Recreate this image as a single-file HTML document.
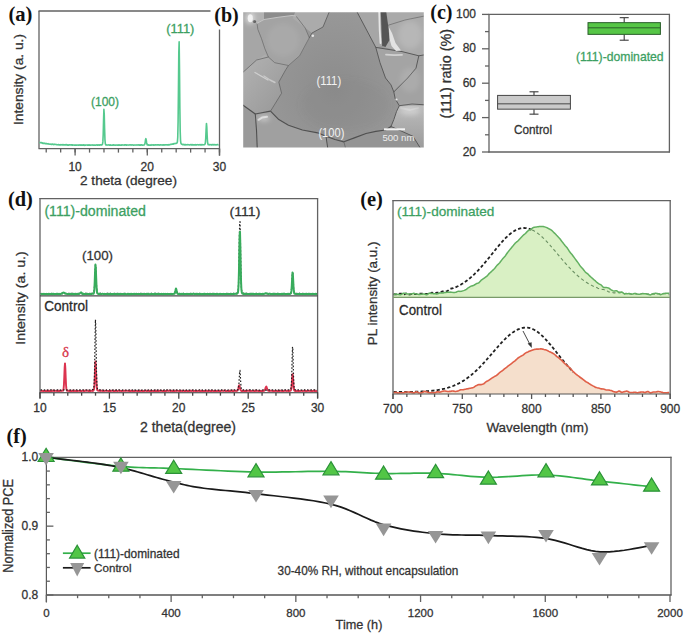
<!DOCTYPE html>
<html><head><meta charset="utf-8"><style>html,body{margin:0;padding:0;background:#fff;}svg{display:block;}</style></head>
<body><svg width="685" height="634" viewBox="0 0 685 634" font-family="Liberation Sans, sans-serif">
<rect width="685" height="634" fill="#fff"/>
<line x1="39" y1="11" x2="39" y2="148.6" stroke="#626262" stroke-width="1.3" />
<line x1="38.5" y1="148.6" x2="220.0" y2="148.6" stroke="#626262" stroke-width="1.3" />
<line x1="38.5" y1="11" x2="220.0" y2="11" stroke="#626262" stroke-width="1.3" />
<line x1="219.5" y1="11" x2="219.5" y2="155.6" stroke="#626262" stroke-width="1.3" />
<line x1="46.22" y1="148.6" x2="46.22" y2="152.6" stroke="#626262" stroke-width="1.3" />
<line x1="60.66" y1="148.6" x2="60.66" y2="152.6" stroke="#626262" stroke-width="1.3" />
<line x1="75.1" y1="148.6" x2="75.1" y2="152.6" stroke="#626262" stroke-width="1.3" />
<line x1="89.53999999999999" y1="148.6" x2="89.53999999999999" y2="152.6" stroke="#626262" stroke-width="1.3" />
<line x1="103.98" y1="148.6" x2="103.98" y2="152.6" stroke="#626262" stroke-width="1.3" />
<line x1="118.42" y1="148.6" x2="118.42" y2="152.6" stroke="#626262" stroke-width="1.3" />
<line x1="132.86" y1="148.6" x2="132.86" y2="152.6" stroke="#626262" stroke-width="1.3" />
<line x1="147.3" y1="148.6" x2="147.3" y2="152.6" stroke="#626262" stroke-width="1.3" />
<line x1="161.74" y1="148.6" x2="161.74" y2="152.6" stroke="#626262" stroke-width="1.3" />
<line x1="176.18" y1="148.6" x2="176.18" y2="152.6" stroke="#626262" stroke-width="1.3" />
<line x1="190.62" y1="148.6" x2="190.62" y2="152.6" stroke="#626262" stroke-width="1.3" />
<line x1="205.06" y1="148.6" x2="205.06" y2="152.6" stroke="#626262" stroke-width="1.3" />
<line x1="219.5" y1="148.6" x2="219.5" y2="152.6" stroke="#626262" stroke-width="1.3" />
<line x1="75.1" y1="148.6" x2="75.1" y2="155.6" stroke="#626262" stroke-width="1.3" />
<text x="75.1" y="171" font-family="Liberation Sans" font-size="12" fill="#333" stroke="#333" stroke-width="0.28" text-anchor="middle" >10</text>
<line x1="147.3" y1="148.6" x2="147.3" y2="155.6" stroke="#626262" stroke-width="1.3" />
<text x="147.3" y="171" font-family="Liberation Sans" font-size="12" fill="#333" stroke="#333" stroke-width="0.28" text-anchor="middle" >20</text>
<line x1="219.5" y1="148.6" x2="219.5" y2="155.6" stroke="#626262" stroke-width="1.3" />
<text x="219.5" y="171" font-family="Liberation Sans" font-size="12" fill="#333" stroke="#333" stroke-width="0.28" text-anchor="middle" >30</text>
<text x="80" y="184.5" font-family="Liberation Sans" font-size="13.6" fill="#333" stroke="#333" stroke-width="0.28" textLength="97" lengthAdjust="spacingAndGlyphs" >2 theta (degree)</text>
<text x="22.8" y="79.5" font-family="Liberation Sans" font-size="13.5" fill="#333" stroke="#333" stroke-width="0.28" text-anchor="middle" textLength="91" lengthAdjust="spacingAndGlyphs" transform="rotate(-90 22.8 79.5)" >Intensity (a. u.)</text>
<path d="M39.50,142.29 L39.85,142.52 L40.20,142.52 L40.55,142.71 L40.90,142.80 L41.25,142.59 L41.60,142.63 L41.95,143.11 L42.30,142.89 L42.65,142.94 L43.00,143.39 L43.35,143.18 L43.70,143.43 L44.05,143.30 L44.40,143.44 L44.75,143.25 L45.10,143.54 L45.45,143.71 L45.80,143.59 L46.15,143.75 L46.50,143.76 L46.85,143.50 L47.20,143.89 L47.55,143.85 L47.90,143.74 L48.25,143.65 L48.60,144.11 L48.95,143.95 L49.30,144.11 L49.65,144.22 L50.00,144.17 L50.35,144.31 L50.70,144.08 L51.05,144.32 L51.40,144.17 L51.75,144.44 L52.10,144.44 L52.45,144.08 L52.80,144.13 L53.15,144.19 L53.50,144.59 L53.85,144.35 L54.20,144.47 L54.55,144.33 L54.90,144.46 L55.25,144.42 L55.60,144.42 L55.95,144.56 L56.30,144.58 L56.65,144.76 L57.00,144.67 L57.35,144.81 L57.70,144.79 L58.05,144.87 L58.40,144.73 L58.75,144.49 L59.10,144.86 L59.45,144.93 L59.80,144.91 L60.15,144.76 L60.50,144.84 L60.85,144.60 L61.20,144.93 L61.55,144.81 L61.90,144.68 L62.25,144.58 L62.60,144.99 L62.95,145.07 L63.30,144.63 L63.65,144.99 L64.00,144.81 L64.35,144.69 L64.70,144.77 L65.05,145.01 L65.40,145.07 L65.75,144.67 L66.10,144.96 L66.45,144.68 L66.80,145.03 L67.15,144.84 L67.50,145.12 L67.85,145.18 L68.20,144.95 L68.55,145.20 L68.90,144.87 L69.25,144.76 L69.60,145.02 L69.95,144.74 L70.30,144.83 L70.65,144.94 L71.00,145.05 L71.35,144.83 L71.70,144.78 L72.05,145.19 L72.40,144.92 L72.75,145.25 L73.10,145.22 L73.45,144.96 L73.80,145.01 L74.15,145.04 L74.50,145.11 L74.85,145.09 L75.20,145.07 L75.55,145.11 L75.90,145.27 L76.25,145.06 L76.60,145.02 L76.95,145.17 L77.30,144.93 L77.65,144.96 L78.00,145.30 L78.35,145.08 L78.70,145.09 L79.05,144.83 L79.40,145.03 L79.75,145.12 L80.10,144.84 L80.45,145.14 L80.80,145.15 L81.15,144.86 L81.50,145.15 L81.85,145.07 L82.20,145.18 L82.55,145.01 L82.90,145.19 L83.25,145.21 L83.60,144.85 L83.95,144.87 L84.30,145.18 L84.65,145.32 L85.00,144.97 L85.35,145.07 L85.70,145.14 L86.05,145.01 L86.40,145.03 L86.75,145.00 L87.10,145.03 L87.45,145.15 L87.80,145.00 L88.15,145.04 L88.50,145.23 L88.85,144.86 L89.20,145.13 L89.55,145.22 L89.90,145.00 L90.25,144.96 L90.60,145.25 L90.95,144.97 L91.30,144.94 L91.65,145.07 L92.00,145.20 L92.35,144.90 L92.70,145.01 L93.05,145.01 L93.40,145.26 L93.75,145.06 L94.10,145.27 L94.45,144.93 L94.80,145.01 L95.15,145.16 L95.50,145.28 L95.85,145.06 L96.20,144.95 L96.55,144.89 L96.90,145.10 L97.25,144.92 L97.60,145.23 L97.95,145.24 L98.30,144.91 L98.65,144.95 L99.00,145.21 L99.35,145.12 L99.70,145.19 L100.05,144.95 L100.40,144.83 L100.75,144.89 L101.10,145.12 L101.45,144.82 L101.80,144.80 L102.15,144.71 L102.50,144.22 L102.85,141.88 L103.20,134.66 L103.55,120.55 L103.90,109.35 L104.25,114.59 L104.60,128.89 L104.95,139.60 L105.30,143.54 L105.65,144.84 L106.00,145.04 L106.35,144.76 L106.70,145.07 L107.05,145.14 L107.40,145.08 L107.75,145.02 L108.10,144.91 L108.45,144.95 L108.80,144.90 L109.15,144.82 L109.50,145.09 L109.85,144.94 L110.20,145.21 L110.55,144.82 L110.90,145.26 L111.25,145.15 L111.60,145.27 L111.95,145.26 L112.30,145.26 L112.65,145.10 L113.00,144.81 L113.35,145.18 L113.70,144.89 L114.05,144.96 L114.40,145.14 L114.75,145.07 L115.10,145.01 L115.45,145.28 L115.80,145.11 L116.15,144.98 L116.50,144.93 L116.85,145.24 L117.20,145.04 L117.55,145.19 L117.90,144.98 L118.25,144.90 L118.60,145.07 L118.95,145.21 L119.30,144.89 L119.65,145.20 L120.00,145.26 L120.35,145.20 L120.70,145.21 L121.05,144.80 L121.40,145.11 L121.75,145.23 L122.10,144.82 L122.45,144.93 L122.80,144.93 L123.15,145.05 L123.50,145.00 L123.85,145.03 L124.20,145.18 L124.55,144.79 L124.90,144.81 L125.25,144.85 L125.60,144.85 L125.95,144.82 L126.30,145.27 L126.65,145.21 L127.00,144.82 L127.35,145.03 L127.70,144.94 L128.05,144.94 L128.40,144.95 L128.75,145.10 L129.10,145.07 L129.45,144.95 L129.80,144.87 L130.15,144.94 L130.50,144.83 L130.85,145.05 L131.20,145.13 L131.55,144.96 L131.90,144.81 L132.25,144.86 L132.60,144.95 L132.95,145.07 L133.30,145.15 L133.65,144.95 L134.00,145.16 L134.35,145.07 L134.70,144.97 L135.05,144.94 L135.40,145.00 L135.75,145.10 L136.10,144.96 L136.45,145.10 L136.80,144.98 L137.15,144.87 L137.50,145.01 L137.85,145.09 L138.20,144.78 L138.55,144.96 L138.90,144.95 L139.25,145.18 L139.60,145.21 L139.95,144.92 L140.30,145.18 L140.65,145.13 L141.00,144.86 L141.35,144.96 L141.70,144.79 L142.05,145.13 L142.40,145.05 L142.75,145.16 L143.10,145.10 L143.45,145.03 L143.80,145.05 L144.15,144.93 L144.50,144.54 L144.85,144.11 L145.20,142.02 L145.55,139.49 L145.90,138.64 L146.25,140.07 L146.60,142.63 L146.95,144.11 L147.30,144.99 L147.65,144.74 L148.00,144.69 L148.35,145.11 L148.70,144.75 L149.05,145.12 L149.40,145.03 L149.75,145.12 L150.10,145.18 L150.45,144.99 L150.80,145.10 L151.15,144.72 L151.50,145.08 L151.85,144.95 L152.20,145.06 L152.55,144.75 L152.90,145.07 L153.25,145.16 L153.60,144.72 L153.95,144.86 L154.30,144.97 L154.65,145.11 L155.00,144.81 L155.35,144.78 L155.70,144.81 L156.05,144.99 L156.40,145.06 L156.75,144.88 L157.10,144.87 L157.45,144.88 L157.80,144.85 L158.15,144.89 L158.50,144.72 L158.85,144.93 L159.20,145.16 L159.55,144.88 L159.90,145.04 L160.25,144.75 L160.60,145.01 L160.95,145.04 L161.30,145.00 L161.65,144.92 L162.00,144.90 L162.35,144.98 L162.70,145.11 L163.05,144.73 L163.40,144.70 L163.75,145.02 L164.10,145.11 L164.45,144.90 L164.80,144.86 L165.15,145.00 L165.50,144.73 L165.85,144.76 L166.20,144.72 L166.55,144.91 L166.90,144.76 L167.25,144.71 L167.60,144.93 L167.95,145.04 L168.30,144.69 L168.65,144.87 L169.00,144.70 L169.35,144.88 L169.70,144.71 L170.05,144.50 L170.40,144.42 L170.75,144.26 L171.10,144.42 L171.45,144.29 L171.80,144.11 L172.15,144.11 L172.50,144.00 L172.85,144.13 L173.20,143.72 L173.55,144.05 L173.90,143.71 L174.25,143.68 L174.60,143.54 L174.95,143.66 L175.30,143.59 L175.65,143.41 L176.00,143.31 L176.35,143.36 L176.70,143.32 L177.05,142.83 L177.40,141.90 L177.75,137.20 L178.10,121.57 L178.45,89.83 L178.80,52.75 L179.15,41.72 L179.50,69.54 L179.85,107.26 L180.20,131.32 L180.55,140.52 L180.90,143.09 L181.25,143.78 L181.60,143.99 L181.95,144.41 L182.30,144.60 L182.65,144.70 L183.00,144.44 L183.35,144.79 L183.70,144.56 L184.05,144.64 L184.40,144.82 L184.75,144.52 L185.10,144.53 L185.45,144.92 L185.80,144.66 L186.15,144.70 L186.50,144.82 L186.85,144.87 L187.20,144.54 L187.55,144.71 L187.90,144.76 L188.25,144.79 L188.60,144.66 L188.95,144.85 L189.30,145.03 L189.65,144.75 L190.00,144.83 L190.35,144.62 L190.70,144.70 L191.05,144.89 L191.40,144.62 L191.75,145.00 L192.10,145.02 L192.45,144.61 L192.80,145.03 L193.15,144.75 L193.50,144.95 L193.85,144.94 L194.20,144.71 L194.55,144.90 L194.90,144.89 L195.25,144.96 L195.60,144.69 L195.95,144.93 L196.30,145.04 L196.65,144.89 L197.00,144.82 L197.35,144.61 L197.70,144.80 L198.05,144.73 L198.40,144.91 L198.75,144.89 L199.10,144.83 L199.45,144.64 L199.80,144.87 L200.15,144.86 L200.50,144.63 L200.85,144.98 L201.20,144.86 L201.55,144.59 L201.90,144.99 L202.25,144.59 L202.60,144.67 L202.95,144.86 L203.30,144.79 L203.65,144.75 L204.00,144.77 L204.35,144.64 L204.70,144.49 L205.05,144.08 L205.40,142.49 L205.75,138.04 L206.10,129.71 L206.45,123.45 L206.80,127.12 L207.15,135.54 L207.50,141.55 L207.85,143.91 L208.20,144.71 L208.55,144.41 L208.90,144.68 L209.25,144.57 L209.60,144.85 L209.95,144.66 L210.30,144.65 L210.65,144.69 L211.00,144.77 L211.35,144.89 L211.70,144.68 L212.05,144.93 L212.40,144.56 L212.75,144.64 L213.10,144.56 L213.45,144.57 L213.80,144.90 L214.15,144.87 L214.50,144.60 L214.85,144.60 L215.20,144.72 L215.55,144.88 L215.90,144.92 L216.25,144.88 L216.60,144.80 L216.95,144.58 L217.30,144.71 L217.65,144.60 L218.00,144.77 L218.35,144.79 L218.70,144.60" fill="none" stroke="#55c98e" stroke-width="1.6" stroke-linejoin="round" />
<text x="105" y="105.5" font-family="Liberation Sans" font-size="12" fill="#3c9f62" stroke="#3c9f62" stroke-width="0.28" text-anchor="middle" textLength="28" lengthAdjust="spacingAndGlyphs" >(100)</text>
<text x="180.3" y="33.2" font-family="Liberation Sans" font-size="12" fill="#3c9f62" stroke="#3c9f62" stroke-width="0.28" text-anchor="middle" textLength="28" lengthAdjust="spacingAndGlyphs" >(111)</text>
<defs><filter id="sb" x="-5%" y="-5%" width="110%" height="110%"><feGaussianBlur stdDeviation="0.7"/></filter><filter id="sb2" x="-50%" y="-50%" width="200%" height="200%"><feGaussianBlur stdDeviation="2.5"/></filter><radialGradient id="cg" cx="0.5" cy="0.6" r="0.65"><stop offset="0" stop-color="#8c8c8c"/><stop offset="1" stop-color="#999999"/></radialGradient><linearGradient id="lg1" x1="0" y1="0" x2="1" y2="1"><stop offset="0" stop-color="#b4b4b4"/><stop offset="1" stop-color="#969696"/></linearGradient><linearGradient id="lg2" x1="0" y1="0" x2="0" y2="1"><stop offset="0" stop-color="#bcbcbc"/><stop offset="1" stop-color="#9a9a9a"/></linearGradient><clipPath id="sc"><rect x="243.2" y="12.2" width="180.60000000000002" height="135.20000000000002"/></clipPath></defs>
<g clip-path="url(#sc)"><g filter="url(#sb)"><rect x="241.2" y="10.2" width="184.60000000000002" height="139.20000000000002" fill="#979797"/>
<polygon points="270.5,111.2 281.6,93.2 278.8,82.1 285.8,69.6 288.5,65.5 299.6,55.8 309.3,37.7 312.0,33.0 323.0,27.0 330.0,10.0 356.0,10.0 375.8,47.4 380.0,62.7 385.5,78.0 391.0,84.9 393.8,91.9 395.2,98.8 399.3,105.7 396.6,111.3 393.8,119.6 391.0,126.5 385.5,130.0 375.8,131.4 366.0,133.5 355.0,137.6 343.9,141.8 335.0,139.5 326.0,136.3 317.7,132.8 302.4,130.0 288.5,125.2 278.8,119.6" fill="url(#cg)" fill-opacity="1"/>
<polygon points="257.0,23.4 264.0,19.5 278.0,17.3 292.0,15.5 296.0,16.0 305.2,28.0 309.3,37.7 299.6,55.8 288.5,65.5 274.7,62.7 268.4,57.0 264.9,48.8 261.4,38.3 257.9,29.5" fill="#a3a3a3" fill-opacity="1"/>
<polygon points="262.0,10.0 300.0,10.0 296.0,16.0 292.0,15.5 278.0,17.3 264.0,19.5 257.0,23.4" fill="#8c8c8c" fill-opacity="1"/>
<polygon points="250.0,10.0 264.0,10.0 264.0,19.5 257.0,23.4 253.0,20.0" fill="#b2b2b2" fill-opacity="1"/>
<polygon points="296.0,10.0 330.0,10.0 323.0,27.0 312.0,33.0 305.2,28.0 292.7,18.3" fill="#ababab" fill-opacity="1"/>
<polygon points="240.0,10.0 250.0,10.0 253.0,20.0 257.0,23.4 257.9,29.5 261.4,38.3 264.9,48.8 268.4,57.0 256.6,60.0 240.0,75.0" fill="#a6a6a6" fill-opacity="1"/>
<polygon points="240.0,75.0 256.6,60.0 265.0,54.4 274.7,62.7 288.5,65.5 285.8,69.6 278.8,82.1 281.6,93.2 270.5,111.2 255.3,114.0 240.0,103.0" fill="url(#lg1)" fill-opacity="1"/>
<polygon points="240.0,103.0 255.3,114.0 257.3,150.0 240.0,150.0" fill="#9a9a9a" fill-opacity="1"/>
<polygon points="255.3,114.0 270.5,111.2 278.8,119.6 288.5,125.2 302.4,130.0 317.7,132.8 326.0,136.3 328.0,150.0 257.3,150.0" fill="#a0a0a0" fill-opacity="1"/>
<polygon points="326.0,136.3 335.0,139.5 343.9,141.8 350.0,150.0 328.0,150.0" fill="#959595" fill-opacity="1"/>
<polygon points="343.9,141.8 355.0,137.6 366.0,133.5 375.8,131.4 385.5,130.0 391.0,126.5 413.0,136.3 421.5,150.0 346.0,150.0" fill="#949494" fill-opacity="1"/>
<polygon points="391.0,126.5 393.8,119.6 396.6,111.3 399.3,105.7 427.0,105.0 427.0,150.0 421.5,150.0 413.0,136.3" fill="url(#lg2)" fill-opacity="1"/>
<polygon points="393.8,91.9 407.7,78.0 416.0,68.2 418.8,55.8 427.0,54.4 427.0,105.0 399.3,105.7 395.2,98.8" fill="#a2a2a2" fill-opacity="1"/>
<polygon points="382.0,10.0 427.0,10.0 427.0,54.4 418.8,55.8 402.0,51.6 383.0,47.0" fill="#aaaaaa" fill-opacity="1"/>
<polygon points="356.0,10.0 380.0,10.0 382.0,46.0 375.8,47.4" fill="#a6a6a6" fill-opacity="1"/>
<polygon points="375.8,47.4 402.0,51.6 418.8,55.8 416.0,68.2 407.7,78.0 393.8,91.9 391.0,84.9 385.5,78.0 380.0,62.7" fill="#a4a4a4" fill-opacity="1"/>
<polyline points="240.0,103.0 255.3,114.0 270.5,111.2 278.8,119.6 288.5,125.2 302.4,130.0 317.7,132.8 326.0,136.3 335.0,139.5 343.9,141.8 355.0,137.6 366.0,133.5 375.8,131.4 385.5,130.0 391.0,126.5" fill="none" stroke="#505050" stroke-width="1.2" stroke-opacity="1" stroke-linejoin="round" stroke-linecap="round"/>
<polyline points="391.0,126.5 393.8,119.6 396.6,111.3 399.3,105.7 395.2,98.8 393.8,91.9 391.0,84.9 385.5,78.0 380.0,62.7 375.8,47.4 356.0,10.0" fill="none" stroke="#5a5a5a" stroke-width="1.0" stroke-opacity="1" stroke-linejoin="round" stroke-linecap="round"/>
<polyline points="255.3,114.0 256.5,130.0 257.3,150.0" fill="none" stroke="#505050" stroke-width="1.1" stroke-opacity="1" stroke-linejoin="round" stroke-linecap="round"/>
<polyline points="326.0,136.3 328.0,150.0" fill="none" stroke="#505050" stroke-width="1.0" stroke-opacity="1" stroke-linejoin="round" stroke-linecap="round"/>
<polyline points="343.9,141.8 346.0,150.0" fill="none" stroke="#666" stroke-width="0.8" stroke-opacity="1" stroke-linejoin="round" stroke-linecap="round"/>
<polyline points="393.8,91.9 407.7,78.0 416.0,68.2 418.8,55.8" fill="none" stroke="#5a5a5a" stroke-width="1.0" stroke-opacity="1" stroke-linejoin="round" stroke-linecap="round"/>
<polyline points="375.8,47.4 402.0,51.6 418.8,55.8 427.0,54.4" fill="none" stroke="#5a5a5a" stroke-width="1.0" stroke-opacity="1" stroke-linejoin="round" stroke-linecap="round"/>
<polyline points="399.3,105.7 412.0,104.0 427.0,105.0" fill="none" stroke="#5a5a5a" stroke-width="1.0" stroke-opacity="1" stroke-linejoin="round" stroke-linecap="round"/>
<polyline points="391.0,126.5 413.0,136.3 421.5,150.0" fill="none" stroke="#5a5a5a" stroke-width="1.0" stroke-opacity="1" stroke-linejoin="round" stroke-linecap="round"/>
<polyline points="388.0,25.3 405.0,20.0 427.0,15.5" fill="none" stroke="#707070" stroke-width="0.8" stroke-opacity="1" stroke-linejoin="round" stroke-linecap="round"/>
<polyline points="270.5,111.2 281.6,93.2 278.8,82.1 285.8,69.6 288.5,65.5" fill="none" stroke="#6a6a6a" stroke-width="0.9" stroke-opacity="1" stroke-linejoin="round" stroke-linecap="round"/>
<polyline points="257.0,23.4 257.9,29.5 261.4,38.3 264.9,48.8 268.4,57.0 274.7,62.7 288.5,65.5 299.6,55.8 309.3,37.7 305.2,28.0 296.0,16.0" fill="none" stroke="#707070" stroke-width="0.8" stroke-opacity="1" stroke-linejoin="round" stroke-linecap="round"/>
<polyline points="257.0,23.4 264.0,19.5 278.0,17.3 292.0,15.5 296.0,16.0" fill="none" stroke="#c4c4c4" stroke-width="1.0" stroke-opacity="1" stroke-linejoin="round" stroke-linecap="round"/>
<circle cx="254.5" cy="21.5" r="1.6" fill="#4a4a4a"/>
<polyline points="309.3,37.7 312.0,33.0 323.0,27.0 330.0,10.0" fill="none" stroke="#606060" stroke-width="0.9" stroke-opacity="1" stroke-linejoin="round" stroke-linecap="round"/>
<polyline points="240.0,75.0 256.6,60.0 268.4,57.0" fill="none" stroke="#6a6a6a" stroke-width="0.8" stroke-opacity="1" stroke-linejoin="round" stroke-linecap="round"/>
<polygon points="380.8,10 386,10 388.5,28 389.5,40 385.5,47 382.2,46" fill="#555"/>
<polygon points="388.8,27 392,33 395.5,43 401,50.5 396,51 391.5,46 389.8,40" fill="#e2e2e2"/>
<polyline points="379.2,12.0 379.7,30.0 380.5,43.0" fill="none" stroke="#e6e6e6" stroke-width="1.8" stroke-opacity="1" stroke-linejoin="round" stroke-linecap="round"/>
<polyline points="386.0,54.6 394.0,55.2 402.0,54.8" fill="none" stroke="#d2d2d2" stroke-width="1.8" stroke-opacity="1" stroke-linejoin="round" stroke-linecap="round"/>
<polyline points="255.0,72.5 261.0,76.0 268.0,80.0" fill="none" stroke="#cfcfcf" stroke-width="1.4" stroke-opacity="1" stroke-linejoin="round" stroke-linecap="round"/>
<polyline points="258.5,119.8 262.0,117.6 267.0,116.8" fill="none" stroke="#d4d4d4" stroke-width="2.0" stroke-opacity="1" stroke-linejoin="round" stroke-linecap="round"/>
<ellipse cx="250.3" cy="18.3" rx="2.6" ry="4" fill="#e8e8e8"/>
<polyline points="401.0,108.0 410.0,110.0 418.0,108.0" fill="none" stroke="#c6c6c6" stroke-width="1.8" stroke-opacity="1" stroke-linejoin="round" stroke-linecap="round"/>
<polyline points="264.0,76.0 270.0,80.0 275.0,82.5" fill="none" stroke="#c8c8c8" stroke-width="1.4" stroke-opacity="1" stroke-linejoin="round" stroke-linecap="round"/>
<circle cx="312.8" cy="35.7" r="1.3" fill="#e6e6e6"/>
<circle cx="396.5" cy="99.5" r="1.1" fill="#e6e6e6"/>
</g>
<g filter="url(#sb2)">
<ellipse cx="250" cy="18" rx="4.5" ry="6" fill="#ffffff" fill-opacity="0.55"/>
<ellipse cx="410" cy="111" rx="10" ry="4.5" fill="#ffffff" fill-opacity="0.3"/>
<ellipse cx="264" cy="118.5" rx="6" ry="2.6" fill="#ffffff" fill-opacity="0.45"/>
<ellipse cx="345" cy="105" rx="45" ry="26" fill="#6e6e6e" fill-opacity="0.09"/>
<ellipse cx="283" cy="40" rx="16" ry="16" fill="#ffffff" fill-opacity="0.07"/>
<ellipse cx="410" cy="35" rx="12" ry="14" fill="#ffffff" fill-opacity="0.15"/>
<ellipse cx="410" cy="80" rx="10" ry="12" fill="#ffffff" fill-opacity="0.1"/>
</g></g>
<text x="316.4" y="84.6" font-family="Liberation Sans" font-size="12" fill="#f2f2f2" textLength="24.8" lengthAdjust="spacingAndGlyphs">(111)</text>
<text x="318.4" y="137.4" font-family="Liberation Sans" font-size="12" fill="#f2f2f2" textLength="26" lengthAdjust="spacingAndGlyphs">(100)</text>
<line x1="384" y1="129.3" x2="405" y2="129.3" stroke="#f2f2f2" stroke-width="2"/>
<text x="382.4" y="140.6" font-family="Liberation Sans" font-size="9.5" fill="#eeeeee" textLength="32" lengthAdjust="spacingAndGlyphs">500 nm</text>
<rect x="210.5" y="0" width="31" height="29.5" fill="#fff"/>
<text x="214.3" y="21.8" font-family="Liberation Serif" font-size="20.7" fill="#111" textLength="24.5" lengthAdjust="spacingAndGlyphs" font-weight="bold" >(b)</text>
<text x="8.4" y="20.5" font-family="Liberation Serif" font-size="20.4" fill="#111" textLength="24.1" lengthAdjust="spacingAndGlyphs" font-weight="bold" >(a)</text>
<line x1="489" y1="13.9" x2="489" y2="152.5" stroke="#626262" stroke-width="1.3" />
<line x1="488.5" y1="152" x2="669.9" y2="152" stroke="#626262" stroke-width="1.3" />
<line x1="488.5" y1="14.4" x2="669.9" y2="14.4" stroke="#626262" stroke-width="1.3" />
<line x1="669.4" y1="13.9" x2="669.4" y2="152.5" stroke="#626262" stroke-width="1.3" />
<line x1="482" y1="152.0" x2="489" y2="152.0" stroke="#626262" stroke-width="1.3" />
<text x="476.0" y="155.6" font-family="Liberation Sans" font-size="12" fill="#333" stroke="#333" stroke-width="0.28" text-anchor="end" >20</text>
<line x1="485" y1="134.8" x2="489" y2="134.8" stroke="#626262" stroke-width="1.3" />
<line x1="482" y1="117.6" x2="489" y2="117.6" stroke="#626262" stroke-width="1.3" />
<text x="476.0" y="121.19999999999999" font-family="Liberation Sans" font-size="12" fill="#333" stroke="#333" stroke-width="0.28" text-anchor="end" >40</text>
<line x1="485" y1="100.4" x2="489" y2="100.4" stroke="#626262" stroke-width="1.3" />
<line x1="482" y1="83.2" x2="489" y2="83.2" stroke="#626262" stroke-width="1.3" />
<text x="476.0" y="86.8" font-family="Liberation Sans" font-size="12" fill="#333" stroke="#333" stroke-width="0.28" text-anchor="end" >60</text>
<line x1="485" y1="66.0" x2="489" y2="66.0" stroke="#626262" stroke-width="1.3" />
<line x1="482" y1="48.8" x2="489" y2="48.8" stroke="#626262" stroke-width="1.3" />
<text x="476.0" y="52.4" font-family="Liberation Sans" font-size="12" fill="#333" stroke="#333" stroke-width="0.28" text-anchor="end" >80</text>
<line x1="485" y1="31.599999999999994" x2="489" y2="31.599999999999994" stroke="#626262" stroke-width="1.3" />
<line x1="482" y1="14.400000000000006" x2="489" y2="14.400000000000006" stroke="#626262" stroke-width="1.3" />
<text x="476.0" y="18.000000000000007" font-family="Liberation Sans" font-size="12" fill="#333" stroke="#333" stroke-width="0.28" text-anchor="end" >100</text>
<text x="451.4" y="73.8" font-family="Liberation Sans" font-size="13.8" fill="#333" stroke="#333" stroke-width="0.28" text-anchor="middle" textLength="89.6" lengthAdjust="spacingAndGlyphs" transform="rotate(-90 451.4 73.8)" >(111) ratio (%)</text>
<text x="430.2" y="19.4" font-family="Liberation Serif" font-size="20.4" fill="#111" textLength="22.3" lengthAdjust="spacingAndGlyphs" font-weight="bold" >(c)</text>
<line x1="534.0" y1="91.8" x2="534.0" y2="95.412" stroke="#3a3a3a" stroke-width="1.1" />
<line x1="534.0" y1="109.172" x2="534.0" y2="114.16" stroke="#3a3a3a" stroke-width="1.1" />
<line x1="529.5" y1="91.8" x2="538.5" y2="91.8" stroke="#3a3a3a" stroke-width="1.1" />
<line x1="529.5" y1="114.16" x2="538.5" y2="114.16" stroke="#3a3a3a" stroke-width="1.1" />
<rect x="497.6" y="95.41" width="72.79999999999995" height="13.76" fill="#cacaca" stroke="#464646" stroke-width="1"/>
<line x1="497.6" y1="103.84" x2="570.4" y2="103.84" stroke="#464646" stroke-width="1" />
<line x1="624.2" y1="17.668000000000006" x2="624.2" y2="22.656000000000006" stroke="#3a3a3a" stroke-width="1.1" />
<line x1="624.2" y1="34.352000000000004" x2="624.2" y2="40.2" stroke="#3a3a3a" stroke-width="1.1" />
<line x1="619.7" y1="17.668000000000006" x2="628.7" y2="17.668000000000006" stroke="#3a3a3a" stroke-width="1.1" />
<line x1="619.7" y1="40.2" x2="628.7" y2="40.2" stroke="#3a3a3a" stroke-width="1.1" />
<rect x="588" y="22.66" width="72.39999999999998" height="11.70" fill="#56c646" stroke="#2a5e2a" stroke-width="1"/>
<line x1="588" y1="27.816000000000003" x2="660.4" y2="27.816000000000003" stroke="#2a5e2a" stroke-width="1" />
<text x="514" y="133.6" font-family="Liberation Sans" font-size="12" fill="#333" stroke="#333" stroke-width="0.28" textLength="38" lengthAdjust="spacingAndGlyphs" >Control</text>
<text x="576" y="61" font-family="Liberation Sans" font-size="12.2" fill="#3c9f62" stroke="#3c9f62" stroke-width="0.28" textLength="87.6" lengthAdjust="spacingAndGlyphs" >(111)-dominated</text>
<line x1="40" y1="198.1" x2="40" y2="398.2" stroke="#626262" stroke-width="1.3" />
<line x1="39.5" y1="198.6" x2="318.1" y2="198.6" stroke="#626262" stroke-width="1.3" />
<line x1="317.6" y1="198.1" x2="317.6" y2="398.2" stroke="#626262" stroke-width="1.3" />
<line x1="40" y1="295.9" x2="317.6" y2="295.9" stroke="#4a4a4a" stroke-width="1.1" />
<line x1="39.5" y1="392.7" x2="318.1" y2="392.7" stroke="#333" stroke-width="1.1" />
<line x1="40.0" y1="392.7" x2="40.0" y2="398.7" stroke="#444" stroke-width="1.3" />
<text x="40.0" y="412.3" font-family="Liberation Sans" font-size="12" fill="#333" stroke="#333" stroke-width="0.28" text-anchor="middle" >10</text>
<line x1="53.88" y1="392.7" x2="53.88" y2="395.7" stroke="#444" stroke-width="1.3" />
<line x1="67.76" y1="392.7" x2="67.76" y2="395.7" stroke="#444" stroke-width="1.3" />
<line x1="81.64" y1="392.7" x2="81.64" y2="395.7" stroke="#444" stroke-width="1.3" />
<line x1="95.52000000000001" y1="392.7" x2="95.52000000000001" y2="395.7" stroke="#444" stroke-width="1.3" />
<line x1="109.4" y1="392.7" x2="109.4" y2="398.7" stroke="#444" stroke-width="1.3" />
<text x="109.4" y="412.3" font-family="Liberation Sans" font-size="12" fill="#333" stroke="#333" stroke-width="0.28" text-anchor="middle" >15</text>
<line x1="123.28" y1="392.7" x2="123.28" y2="395.7" stroke="#444" stroke-width="1.3" />
<line x1="137.16000000000003" y1="392.7" x2="137.16000000000003" y2="395.7" stroke="#444" stroke-width="1.3" />
<line x1="151.04000000000002" y1="392.7" x2="151.04000000000002" y2="395.7" stroke="#444" stroke-width="1.3" />
<line x1="164.92000000000002" y1="392.7" x2="164.92000000000002" y2="395.7" stroke="#444" stroke-width="1.3" />
<line x1="178.8" y1="392.7" x2="178.8" y2="398.7" stroke="#444" stroke-width="1.3" />
<text x="178.8" y="412.3" font-family="Liberation Sans" font-size="12" fill="#333" stroke="#333" stroke-width="0.28" text-anchor="middle" >20</text>
<line x1="192.68" y1="392.7" x2="192.68" y2="395.7" stroke="#444" stroke-width="1.3" />
<line x1="206.56" y1="392.7" x2="206.56" y2="395.7" stroke="#444" stroke-width="1.3" />
<line x1="220.44" y1="392.7" x2="220.44" y2="395.7" stroke="#444" stroke-width="1.3" />
<line x1="234.32000000000002" y1="392.7" x2="234.32000000000002" y2="395.7" stroke="#444" stroke-width="1.3" />
<line x1="248.2" y1="392.7" x2="248.2" y2="398.7" stroke="#444" stroke-width="1.3" />
<text x="248.2" y="412.3" font-family="Liberation Sans" font-size="12" fill="#333" stroke="#333" stroke-width="0.28" text-anchor="middle" >25</text>
<line x1="262.08000000000004" y1="392.7" x2="262.08000000000004" y2="395.7" stroke="#444" stroke-width="1.3" />
<line x1="275.96000000000004" y1="392.7" x2="275.96000000000004" y2="395.7" stroke="#444" stroke-width="1.3" />
<line x1="289.84000000000003" y1="392.7" x2="289.84000000000003" y2="395.7" stroke="#444" stroke-width="1.3" />
<line x1="303.72" y1="392.7" x2="303.72" y2="395.7" stroke="#444" stroke-width="1.3" />
<line x1="317.6" y1="392.7" x2="317.6" y2="398.7" stroke="#444" stroke-width="1.3" />
<text x="317.6" y="412.3" font-family="Liberation Sans" font-size="12" fill="#333" stroke="#333" stroke-width="0.28" text-anchor="middle" >30</text>
<text x="140" y="432" font-family="Liberation Sans" font-size="14" fill="#333" stroke="#333" stroke-width="0.28" textLength="96" lengthAdjust="spacingAndGlyphs" >2 theta(degree)</text>
<text x="24.7" y="298" font-family="Liberation Sans" font-size="13.6" fill="#333" stroke="#333" stroke-width="0.28" text-anchor="middle" textLength="93.5" lengthAdjust="spacingAndGlyphs" transform="rotate(-90 24.7 298)" >Intensity (a. u.)</text>
<text x="8" y="206.2" font-family="Liberation Serif" font-size="20.6" fill="#111" textLength="24.9" lengthAdjust="spacingAndGlyphs" font-weight="bold" >(d)</text>
<path d="M40.50,293.53 L40.85,293.68 L41.20,293.46 L41.55,293.69 L41.90,293.72 L42.25,293.73 L42.60,293.56 L42.95,293.62 L43.30,293.62 L43.65,293.64 L44.00,293.74 L44.35,293.66 L44.70,293.54 L45.05,293.71 L45.40,293.60 L45.75,293.63 L46.10,293.67 L46.45,293.45 L46.80,293.68 L47.15,293.65 L47.50,293.60 L47.85,293.61 L48.20,293.59 L48.55,293.51 L48.90,293.61 L49.25,293.46 L49.60,293.60 L49.95,293.64 L50.30,293.58 L50.65,293.62 L51.00,293.74 L51.35,293.72 L51.70,293.49 L52.05,293.69 L52.40,293.64 L52.75,293.46 L53.10,293.56 L53.45,293.52 L53.80,293.47 L54.15,293.61 L54.50,293.73 L54.85,293.55 L55.20,293.71 L55.55,293.66 L55.90,293.49 L56.25,293.71 L56.60,293.63 L56.95,293.73 L57.30,293.66 L57.65,293.67 L58.00,293.55 L58.35,293.69 L58.70,293.73 L59.05,293.71 L59.40,293.58 L59.75,293.68 L60.10,293.59 L60.45,293.48 L60.80,293.46 L61.15,293.47 L61.50,293.51 L61.85,293.50 L62.20,293.60 L62.55,293.66 L62.90,293.61 L63.25,293.58 L63.60,293.64 L63.95,293.54 L64.30,293.59 L64.65,293.68 L65.00,293.57 L65.35,293.50 L65.70,293.72 L66.05,293.66 L66.40,293.56 L66.75,293.56 L67.10,293.61 L67.45,293.63 L67.80,293.52 L68.15,293.45 L68.50,293.51 L68.85,293.68 L69.20,293.49 L69.55,293.59 L69.90,293.51 L70.25,293.51 L70.60,293.50 L70.95,293.57 L71.30,293.50 L71.65,293.46 L72.00,293.48 L72.35,293.50 L72.70,293.59 L73.05,293.47 L73.40,293.45 L73.75,293.58 L74.10,293.57 L74.45,293.66 L74.80,293.46 L75.15,293.57 L75.50,293.57 L75.85,293.45 L76.20,293.74 L76.55,293.51 L76.90,293.47 L77.25,293.59 L77.60,293.50 L77.95,293.63 L78.30,293.55 L78.65,293.48 L79.00,293.46 L79.35,293.66 L79.70,293.53 L80.05,293.68 L80.40,293.58 L80.75,293.72 L81.10,293.53 L81.45,293.52 L81.80,293.52 L82.15,293.69 L82.50,293.63 L82.85,293.55 L83.20,293.47 L83.55,293.65 L83.90,293.73 L84.25,293.62 L84.60,293.44 L84.95,293.45 L85.30,293.47 L85.65,293.49 L86.00,293.45 L86.35,293.45 L86.70,293.63 L87.05,293.70 L87.40,293.49 L87.75,293.72 L88.10,293.57 L88.45,293.67 L88.80,293.70 L89.15,293.70 L89.50,293.43 L89.85,293.50 L90.20,293.59 L90.55,293.68 L90.90,293.42 L91.25,293.47 L91.60,293.63 L91.95,293.39 L92.30,293.45 L92.65,293.40 L93.00,293.46 L93.35,293.44 L93.70,292.90 L94.05,291.91 L94.40,288.42 L94.75,281.19 L95.10,271.31 L95.45,264.95 L95.80,267.81 L96.15,277.21 L96.50,285.85 L96.85,290.91 L97.20,292.69 L97.55,293.17 L97.90,293.28 L98.25,293.51 L98.60,293.50 L98.95,293.56 L99.30,293.48 L99.65,293.52 L100.00,293.43 L100.35,293.61 L100.70,293.41 L101.05,293.55 L101.40,293.64 L101.75,293.62 L102.10,293.45 L102.45,293.50 L102.80,293.68 L103.15,293.62 L103.50,293.69 L103.85,293.69 L104.20,293.57 L104.55,293.70 L104.90,293.66 L105.25,293.54 L105.60,293.55 L105.95,293.46 L106.30,293.56 L106.65,293.73 L107.00,293.47 L107.35,293.61 L107.70,293.47 L108.05,293.47 L108.40,293.64 L108.75,293.52 L109.10,293.46 L109.45,293.49 L109.80,293.64 L110.15,293.62 L110.50,293.45 L110.85,293.51 L111.20,293.74 L111.55,293.51 L111.90,293.61 L112.25,293.57 L112.60,293.68 L112.95,293.63 L113.30,293.68 L113.65,293.61 L114.00,293.50 L114.35,293.50 L114.70,293.47 L115.05,293.69 L115.40,293.48 L115.75,293.45 L116.10,293.74 L116.45,293.51 L116.80,293.72 L117.15,293.47 L117.50,293.59 L117.85,293.51 L118.20,293.70 L118.55,293.63 L118.90,293.64 L119.25,293.68 L119.60,293.71 L119.95,293.55 L120.30,293.63 L120.65,293.58 L121.00,293.48 L121.35,293.70 L121.70,293.63 L122.05,293.69 L122.40,293.51 L122.75,293.61 L123.10,293.59 L123.45,293.67 L123.80,293.47 L124.15,293.55 L124.50,293.59 L124.85,293.47 L125.20,293.61 L125.55,293.67 L125.90,293.58 L126.25,293.64 L126.60,293.63 L126.95,293.51 L127.30,293.55 L127.65,293.75 L128.00,293.55 L128.35,293.58 L128.70,293.47 L129.05,293.51 L129.40,293.50 L129.75,293.73 L130.10,293.67 L130.45,293.71 L130.80,293.74 L131.15,293.63 L131.50,293.73 L131.85,293.61 L132.20,293.57 L132.55,293.73 L132.90,293.72 L133.25,293.73 L133.60,293.59 L133.95,293.68 L134.30,293.57 L134.65,293.75 L135.00,293.73 L135.35,293.54 L135.70,293.73 L136.05,293.50 L136.40,293.48 L136.75,293.67 L137.10,293.54 L137.45,293.60 L137.80,293.64 L138.15,293.46 L138.50,293.67 L138.85,293.53 L139.20,293.58 L139.55,293.55 L139.90,293.67 L140.25,293.67 L140.60,293.54 L140.95,293.48 L141.30,293.54 L141.65,293.57 L142.00,293.47 L142.35,293.50 L142.70,293.68 L143.05,293.66 L143.40,293.74 L143.75,293.74 L144.10,293.71 L144.45,293.56 L144.80,293.50 L145.15,293.54 L145.50,293.59 L145.85,293.61 L146.20,293.61 L146.55,293.56 L146.90,293.71 L147.25,293.54 L147.60,293.59 L147.95,293.72 L148.30,293.69 L148.65,293.54 L149.00,293.52 L149.35,293.69 L149.70,293.45 L150.05,293.49 L150.40,293.61 L150.75,293.61 L151.10,293.50 L151.45,293.46 L151.80,293.51 L152.15,293.68 L152.50,293.59 L152.85,293.74 L153.20,293.69 L153.55,293.74 L153.90,293.46 L154.25,293.51 L154.60,293.45 L154.95,293.58 L155.30,293.55 L155.65,293.46 L156.00,293.61 L156.35,293.48 L156.70,293.54 L157.05,293.52 L157.40,293.69 L157.75,293.57 L158.10,293.53 L158.45,293.46 L158.80,293.58 L159.15,293.64 L159.50,293.65 L159.85,293.72 L160.20,293.69 L160.55,293.52 L160.90,293.49 L161.25,293.68 L161.60,293.69 L161.95,293.60 L162.30,293.70 L162.65,293.61 L163.00,293.53 L163.35,293.50 L163.70,293.45 L164.05,293.64 L164.40,293.72 L164.75,293.72 L165.10,293.59 L165.45,293.65 L165.80,293.73 L166.15,293.69 L166.50,293.63 L166.85,293.57 L167.20,293.60 L167.55,293.50 L167.90,293.50 L168.25,293.65 L168.60,293.74 L168.95,293.61 L169.30,293.57 L169.65,293.55 L170.00,293.58 L170.35,293.68 L170.70,293.58 L171.05,293.73 L171.40,293.49 L171.75,293.53 L172.10,293.59 L172.45,293.56 L172.80,293.69 L173.15,293.67 L173.50,293.70 L173.85,293.59 L174.20,293.36 L174.55,293.32 L174.90,292.72 L175.25,291.46 L175.60,289.71 L175.95,288.71 L176.30,289.27 L176.65,290.64 L177.00,292.31 L177.35,293.08 L177.70,293.45 L178.05,293.66 L178.40,293.70 L178.75,293.62 L179.10,293.49 L179.45,293.71 L179.80,293.49 L180.15,293.55 L180.50,293.69 L180.85,293.54 L181.20,293.52 L181.55,293.73 L181.90,293.73 L182.25,293.54 L182.60,293.56 L182.95,293.53 L183.30,293.49 L183.65,293.52 L184.00,293.74 L184.35,293.47 L184.70,293.52 L185.05,293.51 L185.40,293.47 L185.75,293.61 L186.10,293.67 L186.45,293.70 L186.80,293.64 L187.15,293.69 L187.50,293.45 L187.85,293.53 L188.20,293.74 L188.55,293.47 L188.90,293.53 L189.25,293.59 L189.60,293.53 L189.95,293.61 L190.30,293.46 L190.65,293.52 L191.00,293.73 L191.35,293.49 L191.70,293.72 L192.05,293.50 L192.40,293.75 L192.75,293.65 L193.10,293.64 L193.45,293.49 L193.80,293.46 L194.15,293.68 L194.50,293.50 L194.85,293.50 L195.20,293.69 L195.55,293.71 L195.90,293.46 L196.25,293.74 L196.60,293.61 L196.95,293.56 L197.30,293.48 L197.65,293.56 L198.00,293.74 L198.35,293.53 L198.70,293.49 L199.05,293.49 L199.40,293.49 L199.75,293.55 L200.10,293.72 L200.45,293.47 L200.80,293.50 L201.15,293.73 L201.50,293.75 L201.85,293.74 L202.20,293.52 L202.55,293.55 L202.90,293.73 L203.25,293.59 L203.60,293.66 L203.95,293.54 L204.30,293.45 L204.65,293.55 L205.00,293.67 L205.35,293.68 L205.70,293.62 L206.05,293.59 L206.40,293.61 L206.75,293.58 L207.10,293.61 L207.45,293.70 L207.80,293.51 L208.15,293.62 L208.50,293.73 L208.85,293.70 L209.20,293.50 L209.55,293.73 L209.90,293.70 L210.25,293.50 L210.60,293.53 L210.95,293.51 L211.30,293.46 L211.65,293.74 L212.00,293.57 L212.35,293.71 L212.70,293.48 L213.05,293.45 L213.40,293.71 L213.75,293.68 L214.10,293.74 L214.45,293.65 L214.80,293.60 L215.15,293.67 L215.50,293.47 L215.85,293.61 L216.20,293.58 L216.55,293.49 L216.90,293.62 L217.25,293.54 L217.60,293.59 L217.95,293.55 L218.30,293.54 L218.65,293.55 L219.00,293.62 L219.35,293.74 L219.70,293.72 L220.05,293.70 L220.40,293.69 L220.75,293.53 L221.10,293.73 L221.45,293.52 L221.80,293.48 L222.15,293.59 L222.50,293.66 L222.85,293.54 L223.20,293.63 L223.55,293.52 L223.90,293.73 L224.25,293.57 L224.60,293.58 L224.95,293.59 L225.30,293.69 L225.65,293.73 L226.00,293.59 L226.35,293.56 L226.70,293.61 L227.05,293.45 L227.40,293.55 L227.75,293.68 L228.10,293.66 L228.45,293.44 L228.80,293.68 L229.15,293.53 L229.50,293.71 L229.85,293.52 L230.20,293.47 L230.55,293.57 L230.90,293.67 L231.25,293.53 L231.60,293.66 L231.95,293.60 L232.30,293.49 L232.65,293.47 L233.00,293.52 L233.35,293.48 L233.70,293.47 L234.05,293.54 L234.40,293.59 L234.75,293.49 L235.10,293.33 L235.45,293.33 L235.80,293.34 L236.15,293.37 L236.50,293.18 L236.85,293.08 L237.20,293.04 L237.55,292.78 L237.90,291.95 L238.25,289.52 L238.60,282.37 L238.95,267.03 L239.30,244.79 L239.65,224.78 L240.00,221.77 L240.35,238.64 L240.70,261.48 L241.05,279.08 L241.40,288.05 L241.75,291.77 L242.10,292.69 L242.45,293.04 L242.80,293.30 L243.15,293.20 L243.50,293.23 L243.85,293.47 L244.20,293.44 L244.55,293.31 L244.90,293.31 L245.25,293.43 L245.60,293.34 L245.95,293.60 L246.30,293.42 L246.65,293.45 L247.00,293.49 L247.35,293.54 L247.70,293.52 L248.05,293.58 L248.40,293.60 L248.75,293.53 L249.10,293.44 L249.45,293.70 L249.80,293.62 L250.15,293.44 L250.50,293.55 L250.85,293.64 L251.20,293.72 L251.55,293.44 L251.90,293.43 L252.25,293.57 L252.60,293.55 L252.95,293.70 L253.30,293.68 L253.65,293.53 L254.00,293.56 L254.35,293.61 L254.70,293.70 L255.05,293.49 L255.40,293.55 L255.75,293.46 L256.10,293.63 L256.45,293.44 L256.80,293.72 L257.15,293.59 L257.50,293.61 L257.85,293.46 L258.20,293.51 L258.55,293.58 L258.90,293.70 L259.25,293.60 L259.60,293.52 L259.95,293.73 L260.30,293.64 L260.65,293.60 L261.00,293.50 L261.35,293.53 L261.70,293.71 L262.05,293.48 L262.40,293.60 L262.75,293.63 L263.10,293.55 L263.45,293.67 L263.80,293.72 L264.15,293.70 L264.50,293.66 L264.85,293.50 L265.20,293.46 L265.55,293.57 L265.90,293.54 L266.25,293.50 L266.60,293.70 L266.95,293.51 L267.30,293.69 L267.65,293.72 L268.00,293.48 L268.35,293.72 L268.70,293.56 L269.05,293.51 L269.40,293.50 L269.75,293.46 L270.10,293.59 L270.45,293.56 L270.80,293.70 L271.15,293.69 L271.50,293.46 L271.85,293.56 L272.20,293.56 L272.55,293.50 L272.90,293.52 L273.25,293.52 L273.60,293.65 L273.95,293.55 L274.30,293.48 L274.65,293.51 L275.00,293.58 L275.35,293.61 L275.70,293.52 L276.05,293.65 L276.40,293.51 L276.75,293.64 L277.10,293.63 L277.45,293.50 L277.80,293.67 L278.15,293.56 L278.50,293.60 L278.85,293.62 L279.20,293.63 L279.55,293.57 L279.90,293.46 L280.25,293.68 L280.60,293.70 L280.95,293.59 L281.30,293.61 L281.65,293.52 L282.00,293.71 L282.35,293.64 L282.70,293.51 L283.05,293.68 L283.40,293.73 L283.75,293.54 L284.10,293.73 L284.45,293.58 L284.80,293.49 L285.15,293.65 L285.50,293.53 L285.85,293.65 L286.20,293.60 L286.55,293.46 L286.90,293.58 L287.25,293.67 L287.60,293.56 L287.95,293.57 L288.30,293.66 L288.65,293.52 L289.00,293.53 L289.35,293.54 L289.70,293.59 L290.05,293.37 L290.40,293.28 L290.75,293.28 L291.10,292.49 L291.45,290.14 L291.80,285.31 L292.15,278.11 L292.50,272.56 L292.85,273.97 L293.20,280.59 L293.55,287.29 L293.90,291.16 L294.25,292.68 L294.60,293.36 L294.95,293.50 L295.30,293.43 L295.65,293.50 L296.00,293.54 L296.35,293.46 L296.70,293.60 L297.05,293.57 L297.40,293.53 L297.75,293.45 L298.10,293.59 L298.45,293.52 L298.80,293.64 L299.15,293.48 L299.50,293.55 L299.85,293.49 L300.20,293.56 L300.55,293.61 L300.90,293.47 L301.25,293.45 L301.60,293.58 L301.95,293.50 L302.30,293.59 L302.65,293.49 L303.00,293.47 L303.35,293.60 L303.70,293.72 L304.05,293.70 L304.40,293.60 L304.75,293.56 L305.10,293.46 L305.45,293.53 L305.80,293.54 L306.15,293.73 L306.50,293.48 L306.85,293.73 L307.20,293.59 L307.55,293.58 L307.90,293.52 L308.25,293.73 L308.60,293.50 L308.95,293.62 L309.30,293.60 L309.65,293.51 L310.00,293.51 L310.35,293.74 L310.70,293.68 L311.05,293.67 L311.40,293.72 L311.75,293.48 L312.10,293.66 L312.45,293.67 L312.80,293.52 L313.15,293.58 L313.50,293.74 L313.85,293.55 L314.20,293.68 L314.55,293.50 L314.90,293.65 L315.25,293.53 L315.60,293.60 L315.95,293.56 L316.30,293.71 L316.65,293.67 L317.00,293.60" fill="none" stroke="#222" stroke-width="1.3" stroke-linejoin="round" stroke-dasharray="1.6 2.0"/>
<path d="M40.50,294.07 L40.85,293.97 L41.20,294.12 L41.55,293.90 L41.90,294.02 L42.25,294.03 L42.60,293.95 L42.95,293.82 L43.30,293.87 L43.65,294.06 L44.00,293.88 L44.35,294.10 L44.70,294.00 L45.05,294.18 L45.40,294.14 L45.75,294.09 L46.10,293.95 L46.45,293.82 L46.80,294.02 L47.15,294.10 L47.50,294.17 L47.85,293.88 L48.20,293.86 L48.55,294.19 L48.90,294.09 L49.25,293.99 L49.60,294.09 L49.95,293.86 L50.30,294.02 L50.65,294.07 L51.00,294.04 L51.35,293.86 L51.70,293.85 L52.05,294.05 L52.40,294.15 L52.75,293.85 L53.10,293.80 L53.45,293.83 L53.80,294.11 L54.15,293.95 L54.50,293.98 L54.85,294.19 L55.20,294.04 L55.55,293.90 L55.90,294.08 L56.25,293.80 L56.60,293.91 L56.95,294.07 L57.30,293.86 L57.65,293.81 L58.00,294.00 L58.35,293.92 L58.70,294.18 L59.05,293.83 L59.40,294.11 L59.75,293.93 L60.10,294.09 L60.45,293.92 L60.80,293.97 L61.15,293.76 L61.50,293.60 L61.85,293.53 L62.20,293.47 L62.55,293.07 L62.90,292.81 L63.25,292.72 L63.60,292.54 L63.95,292.69 L64.30,292.95 L64.65,293.15 L65.00,293.39 L65.35,293.47 L65.70,293.52 L66.05,293.64 L66.40,293.83 L66.75,293.82 L67.10,293.99 L67.45,293.88 L67.80,294.09 L68.15,294.03 L68.50,294.05 L68.85,294.08 L69.20,294.00 L69.55,293.96 L69.90,293.92 L70.25,293.82 L70.60,294.11 L70.95,293.99 L71.30,293.83 L71.65,294.16 L72.00,294.03 L72.35,294.04 L72.70,293.97 L73.05,293.84 L73.40,294.19 L73.75,293.86 L74.10,293.94 L74.45,294.19 L74.80,293.84 L75.15,293.99 L75.50,293.98 L75.85,293.89 L76.20,294.16 L76.55,293.96 L76.90,293.79 L77.25,293.98 L77.60,293.79 L77.95,294.07 L78.30,294.12 L78.65,294.12 L79.00,293.72 L79.35,293.85 L79.70,293.47 L80.05,293.20 L80.40,292.75 L80.75,292.46 L81.10,292.38 L81.45,292.83 L81.80,293.00 L82.15,293.70 L82.50,293.57 L82.85,294.07 L83.20,293.82 L83.55,293.80 L83.90,294.07 L84.25,293.99 L84.60,294.09 L84.95,293.98 L85.30,294.03 L85.65,293.81 L86.00,294.05 L86.35,293.99 L86.70,294.16 L87.05,293.78 L87.40,293.80 L87.75,294.05 L88.10,294.14 L88.45,293.94 L88.80,294.05 L89.15,293.99 L89.50,293.92 L89.85,293.95 L90.20,293.99 L90.55,293.76 L90.90,293.86 L91.25,294.03 L91.60,293.82 L91.95,293.89 L92.30,293.78 L92.65,293.79 L93.00,293.87 L93.35,293.81 L93.70,293.57 L94.05,292.19 L94.40,288.54 L94.75,281.20 L95.10,271.13 L95.45,264.62 L95.80,267.84 L96.15,277.40 L96.50,286.09 L96.85,291.05 L97.20,292.92 L97.55,293.50 L97.90,293.78 L98.25,293.74 L98.60,294.02 L98.95,293.92 L99.30,293.85 L99.65,293.90 L100.00,293.75 L100.35,294.04 L100.70,294.05 L101.05,293.90 L101.40,294.05 L101.75,293.88 L102.10,293.86 L102.45,293.86 L102.80,293.85 L103.15,294.02 L103.50,294.04 L103.85,294.07 L104.20,293.82 L104.55,294.09 L104.90,293.98 L105.25,293.94 L105.60,293.99 L105.95,293.96 L106.30,293.87 L106.65,293.95 L107.00,294.05 L107.35,294.08 L107.70,294.16 L108.05,293.87 L108.40,294.15 L108.75,294.11 L109.10,294.08 L109.45,294.18 L109.80,293.85 L110.15,294.10 L110.50,294.15 L110.85,293.84 L111.20,294.03 L111.55,294.17 L111.90,293.91 L112.25,294.14 L112.60,294.16 L112.95,293.97 L113.30,293.85 L113.65,293.88 L114.00,294.13 L114.35,293.97 L114.70,293.92 L115.05,293.97 L115.40,294.17 L115.75,293.90 L116.10,293.80 L116.45,294.18 L116.80,293.92 L117.15,293.95 L117.50,294.19 L117.85,293.91 L118.20,293.83 L118.55,294.15 L118.90,293.90 L119.25,293.89 L119.60,294.17 L119.95,293.89 L120.30,294.16 L120.65,293.93 L121.00,293.92 L121.35,293.88 L121.70,294.01 L122.05,294.02 L122.40,293.96 L122.75,294.00 L123.10,293.92 L123.45,294.13 L123.80,294.17 L124.15,294.10 L124.50,294.13 L124.85,293.83 L125.20,293.90 L125.55,293.88 L125.90,293.86 L126.25,294.19 L126.60,294.16 L126.95,294.16 L127.30,294.02 L127.65,293.85 L128.00,293.97 L128.35,293.82 L128.70,294.16 L129.05,293.90 L129.40,293.91 L129.75,294.18 L130.10,293.88 L130.45,294.17 L130.80,293.92 L131.15,294.06 L131.50,293.84 L131.85,294.16 L132.20,293.96 L132.55,293.94 L132.90,294.06 L133.25,294.04 L133.60,293.90 L133.95,293.85 L134.30,294.03 L134.65,293.81 L135.00,294.15 L135.35,293.94 L135.70,293.87 L136.05,293.93 L136.40,293.84 L136.75,293.93 L137.10,294.02 L137.45,293.96 L137.80,293.93 L138.15,293.92 L138.50,293.99 L138.85,294.11 L139.20,293.97 L139.55,294.11 L139.90,293.99 L140.25,293.85 L140.60,293.87 L140.95,294.14 L141.30,293.99 L141.65,293.95 L142.00,294.01 L142.35,294.14 L142.70,293.95 L143.05,293.94 L143.40,293.95 L143.75,293.80 L144.10,294.02 L144.45,293.99 L144.80,294.00 L145.15,293.98 L145.50,293.99 L145.85,294.09 L146.20,293.87 L146.55,294.19 L146.90,293.85 L147.25,294.15 L147.60,293.87 L147.95,294.12 L148.30,293.90 L148.65,293.83 L149.00,294.02 L149.35,294.14 L149.70,294.14 L150.05,294.15 L150.40,294.19 L150.75,293.82 L151.10,293.95 L151.45,293.84 L151.80,294.10 L152.15,293.98 L152.50,294.10 L152.85,294.12 L153.20,294.20 L153.55,294.07 L153.90,294.15 L154.25,294.02 L154.60,293.83 L154.95,294.16 L155.30,293.84 L155.65,293.83 L156.00,294.13 L156.35,293.91 L156.70,294.06 L157.05,293.81 L157.40,293.88 L157.75,294.09 L158.10,293.81 L158.45,294.00 L158.80,294.17 L159.15,293.88 L159.50,294.08 L159.85,294.10 L160.20,294.05 L160.55,294.11 L160.90,294.08 L161.25,293.80 L161.60,293.88 L161.95,294.01 L162.30,294.19 L162.65,293.89 L163.00,294.03 L163.35,293.85 L163.70,294.14 L164.05,293.98 L164.40,294.01 L164.75,294.07 L165.10,293.85 L165.45,294.09 L165.80,294.12 L166.15,294.14 L166.50,293.91 L166.85,293.89 L167.20,293.86 L167.55,294.16 L167.90,293.97 L168.25,293.95 L168.60,294.00 L168.95,294.07 L169.30,293.92 L169.65,293.93 L170.00,294.10 L170.35,294.10 L170.70,293.91 L171.05,293.82 L171.40,294.16 L171.75,294.08 L172.10,294.02 L172.45,293.94 L172.80,294.16 L173.15,293.94 L173.50,293.85 L173.85,293.79 L174.20,293.83 L174.55,293.71 L174.90,292.96 L175.25,291.82 L175.60,289.85 L175.95,288.53 L176.30,289.17 L176.65,290.92 L177.00,292.58 L177.35,293.46 L177.70,293.84 L178.05,293.93 L178.40,294.09 L178.75,293.85 L179.10,294.09 L179.45,293.90 L179.80,294.12 L180.15,293.82 L180.50,293.98 L180.85,293.97 L181.20,294.08 L181.55,293.87 L181.90,293.90 L182.25,293.85 L182.60,294.02 L182.95,294.03 L183.30,293.80 L183.65,293.87 L184.00,293.88 L184.35,294.18 L184.70,293.98 L185.05,294.02 L185.40,293.91 L185.75,294.06 L186.10,294.12 L186.45,294.07 L186.80,293.80 L187.15,293.97 L187.50,293.99 L187.85,293.82 L188.20,294.11 L188.55,293.92 L188.90,293.91 L189.25,294.05 L189.60,294.03 L189.95,294.00 L190.30,294.14 L190.65,294.01 L191.00,293.93 L191.35,293.82 L191.70,294.02 L192.05,293.94 L192.40,294.01 L192.75,293.94 L193.10,293.80 L193.45,293.81 L193.80,293.86 L194.15,293.84 L194.50,294.14 L194.85,294.03 L195.20,293.89 L195.55,294.08 L195.90,294.05 L196.25,293.82 L196.60,294.10 L196.95,293.89 L197.30,294.20 L197.65,293.85 L198.00,293.91 L198.35,293.90 L198.70,294.14 L199.05,294.13 L199.40,294.03 L199.75,293.86 L200.10,293.97 L200.45,294.08 L200.80,293.82 L201.15,294.17 L201.50,294.13 L201.85,294.17 L202.20,294.08 L202.55,294.04 L202.90,294.19 L203.25,293.90 L203.60,293.92 L203.95,293.85 L204.30,293.87 L204.65,294.12 L205.00,293.84 L205.35,294.09 L205.70,293.96 L206.05,294.15 L206.40,294.10 L206.75,294.07 L207.10,294.13 L207.45,293.81 L207.80,293.90 L208.15,293.94 L208.50,293.97 L208.85,294.06 L209.20,294.15 L209.55,294.09 L209.90,294.17 L210.25,294.07 L210.60,293.94 L210.95,294.00 L211.30,294.10 L211.65,294.12 L212.00,293.94 L212.35,293.94 L212.70,294.04 L213.05,293.89 L213.40,294.15 L213.75,293.80 L214.10,294.05 L214.45,293.99 L214.80,293.87 L215.15,294.02 L215.50,293.98 L215.85,294.18 L216.20,294.15 L216.55,294.03 L216.90,294.14 L217.25,294.15 L217.60,293.86 L217.95,294.12 L218.30,294.13 L218.65,294.19 L219.00,294.10 L219.35,293.95 L219.70,293.87 L220.05,294.05 L220.40,293.88 L220.75,294.09 L221.10,294.02 L221.45,294.12 L221.80,293.93 L222.15,293.91 L222.50,294.15 L222.85,294.05 L223.20,293.94 L223.55,294.01 L223.90,293.96 L224.25,294.04 L224.60,293.99 L224.95,293.90 L225.30,294.18 L225.65,294.14 L226.00,294.09 L226.35,293.89 L226.70,293.86 L227.05,294.07 L227.40,294.11 L227.75,294.04 L228.10,293.86 L228.45,294.06 L228.80,293.98 L229.15,293.92 L229.50,294.01 L229.85,293.95 L230.20,294.03 L230.55,294.06 L230.90,294.15 L231.25,293.80 L231.60,293.98 L231.95,294.13 L232.30,294.01 L232.65,293.97 L233.00,294.07 L233.35,293.74 L233.70,294.03 L234.05,293.96 L234.40,293.93 L234.75,293.80 L235.10,293.91 L235.45,293.69 L235.80,293.82 L236.15,293.68 L236.50,293.90 L236.85,293.78 L237.20,293.55 L237.55,293.45 L237.90,292.65 L238.25,290.47 L238.60,284.05 L238.95,271.18 L239.30,251.87 L239.65,234.57 L240.00,231.69 L240.35,246.54 L240.70,266.07 L241.05,281.43 L241.40,289.30 L241.75,292.15 L242.10,293.21 L242.45,293.68 L242.80,293.69 L243.15,293.64 L243.50,293.89 L243.85,293.74 L244.20,293.99 L244.55,293.82 L244.90,293.71 L245.25,294.08 L245.60,293.73 L245.95,293.81 L246.30,294.03 L246.65,293.78 L247.00,293.95 L247.35,294.09 L247.70,293.98 L248.05,293.89 L248.40,294.06 L248.75,294.09 L249.10,293.99 L249.45,294.01 L249.80,293.90 L250.15,293.93 L250.50,294.17 L250.85,294.16 L251.20,293.77 L251.55,293.85 L251.90,293.87 L252.25,294.10 L252.60,293.86 L252.95,293.85 L253.30,294.09 L253.65,293.85 L254.00,294.17 L254.35,293.97 L254.70,294.14 L255.05,294.11 L255.40,293.87 L255.75,294.10 L256.10,293.95 L256.45,293.88 L256.80,293.81 L257.15,294.07 L257.50,294.01 L257.85,293.91 L258.20,294.12 L258.55,293.87 L258.90,293.97 L259.25,293.82 L259.60,293.93 L259.95,294.14 L260.30,293.99 L260.65,293.85 L261.00,293.88 L261.35,294.05 L261.70,293.90 L262.05,294.14 L262.40,293.81 L262.75,294.13 L263.10,294.03 L263.45,294.10 L263.80,293.89 L264.15,293.72 L264.50,293.68 L264.85,293.75 L265.20,293.35 L265.55,293.22 L265.90,293.36 L266.25,293.35 L266.60,293.39 L266.95,293.52 L267.30,293.57 L267.65,293.85 L268.00,293.90 L268.35,293.92 L268.70,293.92 L269.05,293.78 L269.40,293.82 L269.75,293.89 L270.10,293.97 L270.45,293.84 L270.80,294.18 L271.15,294.02 L271.50,294.09 L271.85,294.15 L272.20,293.88 L272.55,294.15 L272.90,294.18 L273.25,293.90 L273.60,293.84 L273.95,294.11 L274.30,294.15 L274.65,294.11 L275.00,293.96 L275.35,294.03 L275.70,293.84 L276.05,293.89 L276.40,293.96 L276.75,294.09 L277.10,293.83 L277.45,294.16 L277.80,293.80 L278.15,294.18 L278.50,293.89 L278.85,294.12 L279.20,294.12 L279.55,294.17 L279.90,293.98 L280.25,294.07 L280.60,293.91 L280.95,294.12 L281.30,293.83 L281.65,294.14 L282.00,294.03 L282.35,293.81 L282.70,294.16 L283.05,293.91 L283.40,293.81 L283.75,293.89 L284.10,293.80 L284.45,293.90 L284.80,294.07 L285.15,294.18 L285.50,294.03 L285.85,294.12 L286.20,294.10 L286.55,294.06 L286.90,293.92 L287.25,293.87 L287.60,293.82 L287.95,293.97 L288.30,293.83 L288.65,294.04 L289.00,293.86 L289.35,293.94 L289.70,293.91 L290.05,293.91 L290.40,293.66 L290.75,293.50 L291.10,292.92 L291.45,290.40 L291.80,285.46 L292.15,278.22 L292.50,272.41 L292.85,273.95 L293.20,280.63 L293.55,287.64 L293.90,291.58 L294.25,293.31 L294.60,293.77 L294.95,293.70 L295.30,293.88 L295.65,293.93 L296.00,293.90 L296.35,294.00 L296.70,294.11 L297.05,294.07 L297.40,294.08 L297.75,293.82 L298.10,294.05 L298.45,294.02 L298.80,294.15 L299.15,293.78 L299.50,293.85 L299.85,294.17 L300.20,293.93 L300.55,294.07 L300.90,294.02 L301.25,293.95 L301.60,293.96 L301.95,294.01 L302.30,294.18 L302.65,294.00 L303.00,294.11 L303.35,293.91 L303.70,294.08 L304.05,294.03 L304.40,294.09 L304.75,294.15 L305.10,293.83 L305.45,294.18 L305.80,294.04 L306.15,293.90 L306.50,293.98 L306.85,293.83 L307.20,293.89 L307.55,294.13 L307.90,294.08 L308.25,294.14 L308.60,293.86 L308.95,293.84 L309.30,293.95 L309.65,293.99 L310.00,294.08 L310.35,293.92 L310.70,294.09 L311.05,294.03 L311.40,293.91 L311.75,294.11 L312.10,293.83 L312.45,294.03 L312.80,293.87 L313.15,293.81 L313.50,293.99 L313.85,294.01 L314.20,294.04 L314.55,293.95 L314.90,294.17 L315.25,294.11 L315.60,293.86 L315.95,293.80 L316.30,294.18 L316.65,293.96 L317.00,293.84" fill="none" stroke="#38ac5c" stroke-width="2.0" stroke-linejoin="round" />
<text x="44.4" y="215.6" font-family="Liberation Sans" font-size="14" fill="#3c9f62" stroke="#3c9f62" stroke-width="0.28" textLength="101.6" lengthAdjust="spacingAndGlyphs" >(111)-dominated</text>
<text x="97.5" y="260.4" font-family="Liberation Sans" font-size="13.3" fill="#333" stroke="#333" stroke-width="0.28" text-anchor="middle" textLength="31" lengthAdjust="spacingAndGlyphs" >(100)</text>
<text x="245" y="215.5" font-family="Liberation Sans" font-size="13.3" fill="#333" stroke="#333" stroke-width="0.28" text-anchor="middle" textLength="30.8" lengthAdjust="spacingAndGlyphs" >(111)</text>
<text x="44.2" y="311.3" font-family="Liberation Sans" font-size="14.4" fill="#2a2a2a" stroke="#2a2a2a" stroke-width="0.28" textLength="43.8" lengthAdjust="spacingAndGlyphs" >Control</text>
<path d="M40.50,390.77 L40.85,390.98 L41.20,390.77 L41.55,390.85 L41.90,390.97 L42.25,390.84 L42.60,390.96 L42.95,391.08 L43.30,391.01 L43.65,390.95 L44.00,390.95 L44.35,390.82 L44.70,390.95 L45.05,390.96 L45.40,390.93 L45.75,390.89 L46.10,391.00 L46.45,390.78 L46.80,390.98 L47.15,391.09 L47.50,390.71 L47.85,390.80 L48.20,391.09 L48.55,390.73 L48.90,391.02 L49.25,390.93 L49.60,390.72 L49.95,390.95 L50.30,390.70 L50.65,391.03 L51.00,390.81 L51.35,391.06 L51.70,391.05 L52.05,390.75 L52.40,390.85 L52.75,390.75 L53.10,390.99 L53.45,390.73 L53.80,390.72 L54.15,390.74 L54.50,391.03 L54.85,390.79 L55.20,390.82 L55.55,390.86 L55.90,390.91 L56.25,390.85 L56.60,391.06 L56.95,390.82 L57.30,390.87 L57.65,391.02 L58.00,390.77 L58.35,390.74 L58.70,391.00 L59.05,390.79 L59.40,391.02 L59.75,390.99 L60.10,390.80 L60.45,390.78 L60.80,390.67 L61.15,390.97 L61.50,390.78 L61.85,390.72 L62.20,390.62 L62.55,390.59 L62.90,390.74 L63.25,390.03 L63.60,388.71 L63.95,384.64 L64.30,376.84 L64.65,367.65 L65.00,363.37 L65.35,368.28 L65.70,377.79 L66.05,385.27 L66.40,388.93 L66.75,390.14 L67.10,390.77 L67.45,390.59 L67.80,390.62 L68.15,390.83 L68.50,390.94 L68.85,390.85 L69.20,390.68 L69.55,391.03 L69.90,390.71 L70.25,390.79 L70.60,391.06 L70.95,390.98 L71.30,390.97 L71.65,390.70 L72.00,391.01 L72.35,390.84 L72.70,390.68 L73.05,390.99 L73.40,391.05 L73.75,390.70 L74.10,390.86 L74.45,391.04 L74.80,390.82 L75.15,390.81 L75.50,391.00 L75.85,390.86 L76.20,391.09 L76.55,391.03 L76.90,391.03 L77.25,390.97 L77.60,390.77 L77.95,390.96 L78.30,390.92 L78.65,390.88 L79.00,390.92 L79.35,390.81 L79.70,390.77 L80.05,391.05 L80.40,390.84 L80.75,390.73 L81.10,391.08 L81.45,390.89 L81.80,390.96 L82.15,390.82 L82.50,390.75 L82.85,390.82 L83.20,391.02 L83.55,390.80 L83.90,391.05 L84.25,390.81 L84.60,391.05 L84.95,390.76 L85.30,390.86 L85.65,390.74 L86.00,390.74 L86.35,390.89 L86.70,390.83 L87.05,390.89 L87.40,390.76 L87.75,390.80 L88.10,390.80 L88.45,391.03 L88.80,390.70 L89.15,390.83 L89.50,391.00 L89.85,390.89 L90.20,390.76 L90.55,391.05 L90.90,390.68 L91.25,390.68 L91.60,390.62 L91.95,390.78 L92.30,390.92 L92.65,390.66 L93.00,390.62 L93.35,390.73 L93.70,390.12 L94.05,388.91 L94.40,385.63 L94.75,378.00 L95.10,368.21 L95.45,361.48 L95.80,364.75 L96.15,374.40 L96.50,383.08 L96.85,387.98 L97.20,390.03 L97.55,390.61 L97.90,390.50 L98.25,390.63 L98.60,390.72 L98.95,390.80 L99.30,390.72 L99.65,390.89 L100.00,390.74 L100.35,391.01 L100.70,390.79 L101.05,390.75 L101.40,390.69 L101.75,390.72 L102.10,390.76 L102.45,391.03 L102.80,390.84 L103.15,390.85 L103.50,391.06 L103.85,391.07 L104.20,390.99 L104.55,390.78 L104.90,390.82 L105.25,390.89 L105.60,390.79 L105.95,390.83 L106.30,390.77 L106.65,390.79 L107.00,390.99 L107.35,390.93 L107.70,390.87 L108.05,390.88 L108.40,390.94 L108.75,390.97 L109.10,390.70 L109.45,391.03 L109.80,390.88 L110.15,390.83 L110.50,391.08 L110.85,391.00 L111.20,390.83 L111.55,390.70 L111.90,390.87 L112.25,390.87 L112.60,390.85 L112.95,390.73 L113.30,390.93 L113.65,390.80 L114.00,391.00 L114.35,390.91 L114.70,390.81 L115.05,391.03 L115.40,390.88 L115.75,390.73 L116.10,390.81 L116.45,390.72 L116.80,390.87 L117.15,391.06 L117.50,391.07 L117.85,390.96 L118.20,390.76 L118.55,390.79 L118.90,390.78 L119.25,390.85 L119.60,390.95 L119.95,390.71 L120.30,390.89 L120.65,390.87 L121.00,390.96 L121.35,391.03 L121.70,390.86 L122.05,390.94 L122.40,390.81 L122.75,390.88 L123.10,390.95 L123.45,390.72 L123.80,390.90 L124.15,390.90 L124.50,390.77 L124.85,390.80 L125.20,391.03 L125.55,390.84 L125.90,390.78 L126.25,390.81 L126.60,390.91 L126.95,390.86 L127.30,390.84 L127.65,390.83 L128.00,390.79 L128.35,390.90 L128.70,390.94 L129.05,390.73 L129.40,390.94 L129.75,390.82 L130.10,391.09 L130.45,391.07 L130.80,390.75 L131.15,390.98 L131.50,390.84 L131.85,390.74 L132.20,391.05 L132.55,391.06 L132.90,391.01 L133.25,390.95 L133.60,391.09 L133.95,390.92 L134.30,390.97 L134.65,390.96 L135.00,391.04 L135.35,391.04 L135.70,390.82 L136.05,390.78 L136.40,390.92 L136.75,390.94 L137.10,390.84 L137.45,391.04 L137.80,391.04 L138.15,390.97 L138.50,390.91 L138.85,390.98 L139.20,390.78 L139.55,391.02 L139.90,390.75 L140.25,391.06 L140.60,390.95 L140.95,390.81 L141.30,390.78 L141.65,390.94 L142.00,390.88 L142.35,390.98 L142.70,390.74 L143.05,391.05 L143.40,390.87 L143.75,390.88 L144.10,391.00 L144.45,390.94 L144.80,390.88 L145.15,390.82 L145.50,390.89 L145.85,390.71 L146.20,390.80 L146.55,391.03 L146.90,390.75 L147.25,390.73 L147.60,391.04 L147.95,390.85 L148.30,390.91 L148.65,390.93 L149.00,390.99 L149.35,390.83 L149.70,391.01 L150.05,390.70 L150.40,391.04 L150.75,390.82 L151.10,390.95 L151.45,390.82 L151.80,391.00 L152.15,390.85 L152.50,390.94 L152.85,390.83 L153.20,391.03 L153.55,391.01 L153.90,390.78 L154.25,391.00 L154.60,391.08 L154.95,390.79 L155.30,390.78 L155.65,391.07 L156.00,391.09 L156.35,390.75 L156.70,391.01 L157.05,391.07 L157.40,390.81 L157.75,391.01 L158.10,390.82 L158.45,391.01 L158.80,390.90 L159.15,390.89 L159.50,390.75 L159.85,390.96 L160.20,390.98 L160.55,390.82 L160.90,390.72 L161.25,390.74 L161.60,390.80 L161.95,391.10 L162.30,391.00 L162.65,391.06 L163.00,391.00 L163.35,390.75 L163.70,390.85 L164.05,391.08 L164.40,391.04 L164.75,391.10 L165.10,391.03 L165.45,390.98 L165.80,391.01 L166.15,391.07 L166.50,390.87 L166.85,390.71 L167.20,390.82 L167.55,390.71 L167.90,390.81 L168.25,390.94 L168.60,390.81 L168.95,390.80 L169.30,390.74 L169.65,390.84 L170.00,390.91 L170.35,390.94 L170.70,391.08 L171.05,390.73 L171.40,390.80 L171.75,390.73 L172.10,391.07 L172.45,390.95 L172.80,390.96 L173.15,391.03 L173.50,390.70 L173.85,391.06 L174.20,390.83 L174.55,390.95 L174.90,390.86 L175.25,391.00 L175.60,390.82 L175.95,390.81 L176.30,390.80 L176.65,390.99 L177.00,390.88 L177.35,390.76 L177.70,390.84 L178.05,390.93 L178.40,390.85 L178.75,390.94 L179.10,391.04 L179.45,390.96 L179.80,391.02 L180.15,390.82 L180.50,391.05 L180.85,391.08 L181.20,390.91 L181.55,390.71 L181.90,390.73 L182.25,391.00 L182.60,391.05 L182.95,390.99 L183.30,390.90 L183.65,390.92 L184.00,390.75 L184.35,390.94 L184.70,391.10 L185.05,390.78 L185.40,390.94 L185.75,391.04 L186.10,390.96 L186.45,390.84 L186.80,390.79 L187.15,390.99 L187.50,391.07 L187.85,391.05 L188.20,390.86 L188.55,391.00 L188.90,391.02 L189.25,390.85 L189.60,391.00 L189.95,390.85 L190.30,390.78 L190.65,390.70 L191.00,390.99 L191.35,391.00 L191.70,390.72 L192.05,390.72 L192.40,390.83 L192.75,390.78 L193.10,390.99 L193.45,390.78 L193.80,390.93 L194.15,390.92 L194.50,390.84 L194.85,391.04 L195.20,390.87 L195.55,390.90 L195.90,390.97 L196.25,390.86 L196.60,390.77 L196.95,391.08 L197.30,391.00 L197.65,390.92 L198.00,390.90 L198.35,390.95 L198.70,390.82 L199.05,390.73 L199.40,390.92 L199.75,391.06 L200.10,390.74 L200.45,391.09 L200.80,390.85 L201.15,391.10 L201.50,391.01 L201.85,390.81 L202.20,390.78 L202.55,391.05 L202.90,391.09 L203.25,391.02 L203.60,390.93 L203.95,390.92 L204.30,391.01 L204.65,391.03 L205.00,391.03 L205.35,390.81 L205.70,391.03 L206.05,391.08 L206.40,390.93 L206.75,390.70 L207.10,390.77 L207.45,390.96 L207.80,390.87 L208.15,391.07 L208.50,390.96 L208.85,390.98 L209.20,390.76 L209.55,390.91 L209.90,390.98 L210.25,391.07 L210.60,391.06 L210.95,390.81 L211.30,390.90 L211.65,391.09 L212.00,390.74 L212.35,390.73 L212.70,390.77 L213.05,390.99 L213.40,390.83 L213.75,390.98 L214.10,391.03 L214.45,391.02 L214.80,390.72 L215.15,390.97 L215.50,391.02 L215.85,390.98 L216.20,391.04 L216.55,391.03 L216.90,390.94 L217.25,391.05 L217.60,390.92 L217.95,390.74 L218.30,390.81 L218.65,391.07 L219.00,390.83 L219.35,390.89 L219.70,391.05 L220.05,390.97 L220.40,391.02 L220.75,390.89 L221.10,390.90 L221.45,390.73 L221.80,390.78 L222.15,390.76 L222.50,390.91 L222.85,390.91 L223.20,390.73 L223.55,390.95 L223.90,390.74 L224.25,390.85 L224.60,390.71 L224.95,390.89 L225.30,390.76 L225.65,391.07 L226.00,390.84 L226.35,391.03 L226.70,390.87 L227.05,390.83 L227.40,391.03 L227.75,390.81 L228.10,390.90 L228.45,390.95 L228.80,391.09 L229.15,390.98 L229.50,390.72 L229.85,390.88 L230.20,391.08 L230.55,391.04 L230.90,390.84 L231.25,390.75 L231.60,390.80 L231.95,391.00 L232.30,390.76 L232.65,391.05 L233.00,390.80 L233.35,390.97 L233.70,390.97 L234.05,390.78 L234.40,390.89 L234.75,390.93 L235.10,390.79 L235.45,390.89 L235.80,390.92 L236.15,391.05 L236.50,390.77 L236.85,390.69 L237.20,390.73 L237.55,390.49 L237.90,389.77 L238.25,388.69 L238.60,386.74 L238.95,385.43 L239.30,385.19 L239.65,386.23 L240.00,388.03 L240.35,389.44 L240.70,390.25 L241.05,390.78 L241.40,391.00 L241.75,391.03 L242.10,390.75 L242.45,390.82 L242.80,391.05 L243.15,390.71 L243.50,390.72 L243.85,390.71 L244.20,391.07 L244.55,390.89 L244.90,390.86 L245.25,390.73 L245.60,391.04 L245.95,391.09 L246.30,390.97 L246.65,391.06 L247.00,390.92 L247.35,390.82 L247.70,390.77 L248.05,390.82 L248.40,390.75 L248.75,390.84 L249.10,390.71 L249.45,390.71 L249.80,391.05 L250.15,391.03 L250.50,391.02 L250.85,390.84 L251.20,390.88 L251.55,390.91 L251.90,391.01 L252.25,390.82 L252.60,390.90 L252.95,390.92 L253.30,391.03 L253.65,390.84 L254.00,390.70 L254.35,390.86 L254.70,391.05 L255.05,390.77 L255.40,390.95 L255.75,390.75 L256.10,390.80 L256.45,390.94 L256.80,390.74 L257.15,390.88 L257.50,390.93 L257.85,390.85 L258.20,391.00 L258.55,391.03 L258.90,390.80 L259.25,391.00 L259.60,390.99 L259.95,390.93 L260.30,390.93 L260.65,390.92 L261.00,390.98 L261.35,390.96 L261.70,390.79 L262.05,390.94 L262.40,390.96 L262.75,390.86 L263.10,391.02 L263.45,390.78 L263.80,390.83 L264.15,390.74 L264.50,390.50 L264.85,389.82 L265.20,389.16 L265.55,387.85 L265.90,387.03 L266.25,386.58 L266.60,387.12 L266.95,388.19 L267.30,389.32 L267.65,389.86 L268.00,390.63 L268.35,390.70 L268.70,390.82 L269.05,390.67 L269.40,391.01 L269.75,390.76 L270.10,390.79 L270.45,390.80 L270.80,390.78 L271.15,390.80 L271.50,390.80 L271.85,390.90 L272.20,390.83 L272.55,390.99 L272.90,391.06 L273.25,391.06 L273.60,390.84 L273.95,390.97 L274.30,390.99 L274.65,390.98 L275.00,390.85 L275.35,390.77 L275.70,391.00 L276.05,390.96 L276.40,390.83 L276.75,390.96 L277.10,390.72 L277.45,391.01 L277.80,391.05 L278.15,391.08 L278.50,390.74 L278.85,390.97 L279.20,391.01 L279.55,390.75 L279.90,390.94 L280.25,390.77 L280.60,390.78 L280.95,390.70 L281.30,390.81 L281.65,391.03 L282.00,390.93 L282.35,391.01 L282.70,391.08 L283.05,390.75 L283.40,391.03 L283.75,391.05 L284.10,390.95 L284.45,390.82 L284.80,390.76 L285.15,390.86 L285.50,390.83 L285.85,390.79 L286.20,390.95 L286.55,390.93 L286.90,390.78 L287.25,390.74 L287.60,390.87 L287.95,390.95 L288.30,390.93 L288.65,390.91 L289.00,391.00 L289.35,390.94 L289.70,390.79 L290.05,390.89 L290.40,390.81 L290.75,390.53 L291.10,389.88 L291.45,388.16 L291.80,384.34 L292.15,378.66 L292.50,374.17 L292.85,375.28 L293.20,380.37 L293.55,385.89 L293.90,389.00 L294.25,390.40 L294.60,390.81 L294.95,390.59 L295.30,390.99 L295.65,390.69 L296.00,391.02 L296.35,391.04 L296.70,390.75 L297.05,390.78 L297.40,390.73 L297.75,391.04 L298.10,390.98 L298.45,391.06 L298.80,391.00 L299.15,390.83 L299.50,390.99 L299.85,390.83 L300.20,390.82 L300.55,390.86 L300.90,390.97 L301.25,390.82 L301.60,390.91 L301.95,390.92 L302.30,391.01 L302.65,390.88 L303.00,390.86 L303.35,390.92 L303.70,390.88 L304.05,390.99 L304.40,390.74 L304.75,390.77 L305.10,390.71 L305.45,390.86 L305.80,391.04 L306.15,390.94 L306.50,390.95 L306.85,391.07 L307.20,391.02 L307.55,390.81 L307.90,390.79 L308.25,390.91 L308.60,390.79 L308.95,390.94 L309.30,390.73 L309.65,390.85 L310.00,390.99 L310.35,390.80 L310.70,390.76 L311.05,391.00 L311.40,390.78 L311.75,391.06 L312.10,390.94 L312.45,391.05 L312.80,390.91 L313.15,390.89 L313.50,390.80 L313.85,390.72 L314.20,391.08 L314.55,390.79 L314.90,390.73 L315.25,391.07 L315.60,390.91 L315.95,390.93 L316.30,391.07 L316.65,390.99 L317.00,390.80" fill="none" stroke="#dc3450" stroke-width="1.9" stroke-linejoin="round" />
<path d="M40.50,389.93 L40.85,390.05 L41.20,390.05 L41.55,389.92 L41.90,389.92 L42.25,390.00 L42.60,389.87 L42.95,390.09 L43.30,390.05 L43.65,389.90 L44.00,390.02 L44.35,390.03 L44.70,389.88 L45.05,389.98 L45.40,390.09 L45.75,389.99 L46.10,390.07 L46.45,389.92 L46.80,390.15 L47.15,390.05 L47.50,390.02 L47.85,389.85 L48.20,389.96 L48.55,389.85 L48.90,389.98 L49.25,389.90 L49.60,389.92 L49.95,389.94 L50.30,389.89 L50.65,389.93 L51.00,390.00 L51.35,389.89 L51.70,390.02 L52.05,390.13 L52.40,390.06 L52.75,390.13 L53.10,389.88 L53.45,390.05 L53.80,389.92 L54.15,390.13 L54.50,390.00 L54.85,390.06 L55.20,390.08 L55.55,389.89 L55.90,389.88 L56.25,390.09 L56.60,390.09 L56.95,389.98 L57.30,389.86 L57.65,389.85 L58.00,390.09 L58.35,390.06 L58.70,389.96 L59.05,390.05 L59.40,390.09 L59.75,389.85 L60.10,390.07 L60.45,390.14 L60.80,390.11 L61.15,390.11 L61.50,389.98 L61.85,390.03 L62.20,389.88 L62.55,390.08 L62.90,390.04 L63.25,389.96 L63.60,389.85 L63.95,389.84 L64.30,389.77 L64.65,389.73 L65.00,389.49 L65.35,389.73 L65.70,389.73 L66.05,389.87 L66.40,389.90 L66.75,389.93 L67.10,390.08 L67.45,389.95 L67.80,389.94 L68.15,390.05 L68.50,389.98 L68.85,390.11 L69.20,390.05 L69.55,390.09 L69.90,389.97 L70.25,389.96 L70.60,389.98 L70.95,390.14 L71.30,390.13 L71.65,390.01 L72.00,389.99 L72.35,389.87 L72.70,390.10 L73.05,390.03 L73.40,389.97 L73.75,389.89 L74.10,389.98 L74.45,390.06 L74.80,389.92 L75.15,389.92 L75.50,390.00 L75.85,389.99 L76.20,389.84 L76.55,389.86 L76.90,389.95 L77.25,390.05 L77.60,389.95 L77.95,389.84 L78.30,389.91 L78.65,389.90 L79.00,390.07 L79.35,389.91 L79.70,390.13 L80.05,389.92 L80.40,389.89 L80.75,389.84 L81.10,389.98 L81.45,389.99 L81.80,390.07 L82.15,390.03 L82.50,389.99 L82.85,389.85 L83.20,390.11 L83.55,389.90 L83.90,389.90 L84.25,389.88 L84.60,390.00 L84.95,390.02 L85.30,389.92 L85.65,389.90 L86.00,389.82 L86.35,389.99 L86.70,390.02 L87.05,389.84 L87.40,389.88 L87.75,390.02 L88.10,390.01 L88.45,389.83 L88.80,390.08 L89.15,389.99 L89.50,389.98 L89.85,389.85 L90.20,390.03 L90.55,389.86 L90.90,389.90 L91.25,389.98 L91.60,389.91 L91.95,389.67 L92.30,389.60 L92.65,389.56 L93.00,389.42 L93.35,389.42 L93.70,388.55 L94.05,385.67 L94.40,377.12 L94.75,359.36 L95.10,335.36 L95.45,319.61 L95.80,326.94 L96.15,350.05 L96.50,371.32 L96.85,383.31 L97.20,387.87 L97.55,389.01 L97.90,389.44 L98.25,389.71 L98.60,389.65 L98.95,389.77 L99.30,389.70 L99.65,389.92 L100.00,389.80 L100.35,389.83 L100.70,389.98 L101.05,389.78 L101.40,389.76 L101.75,389.90 L102.10,389.91 L102.45,389.82 L102.80,389.91 L103.15,390.03 L103.50,390.07 L103.85,390.08 L104.20,390.05 L104.55,389.83 L104.90,389.92 L105.25,389.95 L105.60,389.83 L105.95,390.06 L106.30,389.91 L106.65,390.06 L107.00,390.03 L107.35,389.91 L107.70,389.93 L108.05,389.97 L108.40,389.89 L108.75,389.84 L109.10,389.96 L109.45,389.90 L109.80,389.91 L110.15,390.07 L110.50,390.06 L110.85,389.96 L111.20,389.84 L111.55,390.07 L111.90,389.92 L112.25,389.87 L112.60,390.07 L112.95,390.11 L113.30,389.92 L113.65,390.00 L114.00,390.11 L114.35,390.00 L114.70,389.95 L115.05,389.89 L115.40,389.85 L115.75,390.11 L116.10,390.09 L116.45,389.90 L116.80,390.04 L117.15,389.90 L117.50,390.07 L117.85,389.96 L118.20,390.05 L118.55,390.00 L118.90,389.87 L119.25,390.02 L119.60,390.04 L119.95,389.86 L120.30,389.86 L120.65,389.93 L121.00,390.06 L121.35,390.14 L121.70,389.98 L122.05,390.10 L122.40,390.06 L122.75,389.93 L123.10,389.98 L123.45,390.10 L123.80,389.99 L124.15,390.00 L124.50,390.06 L124.85,389.89 L125.20,389.98 L125.55,390.00 L125.90,390.02 L126.25,390.05 L126.60,389.93 L126.95,389.99 L127.30,389.99 L127.65,389.88 L128.00,390.08 L128.35,390.13 L128.70,390.02 L129.05,389.97 L129.40,389.96 L129.75,389.98 L130.10,389.96 L130.45,389.93 L130.80,390.13 L131.15,389.96 L131.50,389.91 L131.85,390.05 L132.20,389.85 L132.55,389.95 L132.90,390.02 L133.25,390.09 L133.60,389.94 L133.95,389.86 L134.30,390.14 L134.65,389.85 L135.00,389.97 L135.35,390.00 L135.70,390.14 L136.05,389.96 L136.40,389.92 L136.75,389.93 L137.10,389.96 L137.45,389.89 L137.80,390.12 L138.15,390.00 L138.50,390.07 L138.85,389.93 L139.20,390.05 L139.55,390.12 L139.90,389.92 L140.25,390.14 L140.60,389.93 L140.95,390.06 L141.30,390.13 L141.65,389.99 L142.00,390.13 L142.35,389.97 L142.70,389.98 L143.05,390.13 L143.40,390.03 L143.75,389.87 L144.10,389.89 L144.45,390.01 L144.80,389.95 L145.15,389.87 L145.50,390.09 L145.85,389.95 L146.20,390.12 L146.55,389.96 L146.90,389.91 L147.25,389.98 L147.60,390.10 L147.95,390.12 L148.30,390.02 L148.65,389.93 L149.00,390.01 L149.35,389.93 L149.70,389.96 L150.05,389.85 L150.40,389.86 L150.75,390.13 L151.10,390.08 L151.45,389.92 L151.80,390.03 L152.15,389.86 L152.50,390.10 L152.85,390.03 L153.20,390.07 L153.55,389.98 L153.90,389.98 L154.25,390.09 L154.60,389.95 L154.95,389.87 L155.30,389.88 L155.65,390.13 L156.00,389.93 L156.35,389.87 L156.70,390.02 L157.05,389.89 L157.40,389.98 L157.75,390.08 L158.10,389.92 L158.45,389.98 L158.80,390.13 L159.15,390.11 L159.50,390.11 L159.85,389.86 L160.20,390.14 L160.55,390.02 L160.90,389.90 L161.25,390.15 L161.60,389.89 L161.95,390.15 L162.30,389.86 L162.65,389.87 L163.00,389.99 L163.35,390.03 L163.70,390.03 L164.05,390.10 L164.40,389.88 L164.75,390.07 L165.10,389.95 L165.45,390.14 L165.80,390.04 L166.15,390.06 L166.50,389.89 L166.85,390.12 L167.20,389.94 L167.55,389.91 L167.90,389.98 L168.25,390.08 L168.60,389.95 L168.95,389.99 L169.30,390.03 L169.65,389.92 L170.00,389.89 L170.35,389.97 L170.70,390.06 L171.05,390.05 L171.40,389.91 L171.75,390.05 L172.10,390.10 L172.45,390.06 L172.80,389.90 L173.15,389.86 L173.50,390.15 L173.85,390.06 L174.20,389.93 L174.55,390.07 L174.90,390.02 L175.25,390.04 L175.60,389.96 L175.95,390.05 L176.30,389.96 L176.65,389.97 L177.00,389.95 L177.35,390.07 L177.70,390.11 L178.05,389.94 L178.40,389.87 L178.75,389.93 L179.10,390.08 L179.45,389.96 L179.80,389.85 L180.15,390.10 L180.50,389.98 L180.85,389.87 L181.20,390.07 L181.55,390.00 L181.90,390.10 L182.25,390.10 L182.60,390.10 L182.95,390.11 L183.30,389.97 L183.65,390.09 L184.00,390.00 L184.35,390.05 L184.70,389.92 L185.05,390.04 L185.40,389.87 L185.75,390.11 L186.10,389.90 L186.45,390.02 L186.80,390.10 L187.15,390.10 L187.50,390.11 L187.85,389.98 L188.20,389.87 L188.55,390.15 L188.90,389.94 L189.25,390.11 L189.60,389.97 L189.95,389.98 L190.30,390.01 L190.65,390.01 L191.00,390.08 L191.35,390.03 L191.70,389.90 L192.05,390.01 L192.40,389.88 L192.75,390.11 L193.10,389.90 L193.45,389.96 L193.80,390.03 L194.15,389.95 L194.50,390.12 L194.85,390.09 L195.20,389.95 L195.55,389.98 L195.90,390.07 L196.25,390.00 L196.60,390.04 L196.95,389.95 L197.30,390.02 L197.65,390.03 L198.00,390.12 L198.35,389.95 L198.70,390.09 L199.05,389.91 L199.40,389.94 L199.75,389.92 L200.10,390.13 L200.45,389.88 L200.80,389.94 L201.15,389.99 L201.50,390.06 L201.85,390.05 L202.20,389.89 L202.55,389.97 L202.90,390.07 L203.25,389.89 L203.60,389.89 L203.95,390.10 L204.30,389.85 L204.65,389.87 L205.00,389.91 L205.35,390.10 L205.70,389.95 L206.05,389.98 L206.40,390.01 L206.75,390.12 L207.10,389.86 L207.45,389.91 L207.80,389.97 L208.15,390.04 L208.50,389.89 L208.85,389.98 L209.20,390.02 L209.55,389.87 L209.90,389.95 L210.25,389.87 L210.60,390.12 L210.95,389.85 L211.30,389.90 L211.65,390.03 L212.00,389.92 L212.35,390.02 L212.70,389.95 L213.05,390.15 L213.40,390.02 L213.75,389.95 L214.10,389.90 L214.45,389.99 L214.80,390.08 L215.15,390.06 L215.50,390.06 L215.85,390.00 L216.20,390.13 L216.55,389.97 L216.90,390.01 L217.25,390.13 L217.60,390.09 L217.95,389.99 L218.30,390.09 L218.65,390.08 L219.00,389.94 L219.35,389.97 L219.70,390.08 L220.05,389.96 L220.40,389.95 L220.75,390.01 L221.10,389.87 L221.45,389.93 L221.80,390.14 L222.15,389.92 L222.50,390.09 L222.85,389.85 L223.20,389.94 L223.55,390.00 L223.90,389.94 L224.25,390.13 L224.60,390.13 L224.95,389.94 L225.30,389.89 L225.65,390.12 L226.00,390.08 L226.35,390.00 L226.70,389.86 L227.05,389.85 L227.40,390.05 L227.75,390.05 L228.10,389.98 L228.45,389.94 L228.80,389.93 L229.15,389.95 L229.50,389.97 L229.85,390.03 L230.20,389.97 L230.55,389.94 L230.90,389.91 L231.25,390.04 L231.60,390.12 L231.95,389.89 L232.30,390.07 L232.65,390.03 L233.00,389.90 L233.35,389.87 L233.70,390.08 L234.05,389.87 L234.40,389.86 L234.75,389.84 L235.10,390.06 L235.45,389.92 L235.80,389.80 L236.15,389.87 L236.50,389.93 L236.85,389.90 L237.20,389.78 L237.55,389.94 L237.90,389.78 L238.25,389.19 L238.60,387.65 L238.95,383.81 L239.30,377.43 L239.65,371.49 L240.00,370.43 L240.35,375.77 L240.70,382.48 L241.05,386.89 L241.40,388.93 L241.75,389.61 L242.10,389.81 L242.45,389.74 L242.80,389.87 L243.15,389.87 L243.50,389.82 L243.85,390.05 L244.20,390.01 L244.55,389.96 L244.90,389.84 L245.25,390.04 L245.60,389.94 L245.95,390.09 L246.30,390.02 L246.65,389.90 L247.00,390.06 L247.35,390.01 L247.70,389.94 L248.05,390.07 L248.40,389.94 L248.75,389.88 L249.10,389.85 L249.45,390.02 L249.80,389.92 L250.15,389.89 L250.50,389.86 L250.85,390.07 L251.20,389.93 L251.55,390.10 L251.90,390.11 L252.25,390.09 L252.60,389.91 L252.95,390.13 L253.30,390.03 L253.65,390.10 L254.00,390.12 L254.35,389.94 L254.70,389.96 L255.05,390.11 L255.40,389.93 L255.75,389.87 L256.10,389.86 L256.45,390.01 L256.80,389.94 L257.15,390.13 L257.50,389.85 L257.85,389.97 L258.20,390.06 L258.55,390.03 L258.90,390.10 L259.25,390.04 L259.60,390.11 L259.95,390.14 L260.30,390.10 L260.65,390.03 L261.00,389.97 L261.35,390.01 L261.70,389.91 L262.05,389.92 L262.40,390.00 L262.75,389.98 L263.10,389.96 L263.45,389.87 L263.80,390.14 L264.15,389.95 L264.50,389.99 L264.85,389.95 L265.20,390.01 L265.55,390.08 L265.90,390.13 L266.25,390.03 L266.60,390.13 L266.95,389.96 L267.30,389.99 L267.65,389.95 L268.00,390.14 L268.35,389.88 L268.70,389.91 L269.05,390.08 L269.40,389.92 L269.75,389.87 L270.10,389.96 L270.45,389.98 L270.80,389.98 L271.15,389.91 L271.50,389.95 L271.85,389.93 L272.20,389.90 L272.55,390.00 L272.90,389.91 L273.25,389.90 L273.60,390.12 L273.95,390.11 L274.30,389.96 L274.65,390.00 L275.00,389.87 L275.35,389.85 L275.70,390.00 L276.05,390.13 L276.40,389.87 L276.75,389.98 L277.10,390.08 L277.45,389.84 L277.80,390.02 L278.15,389.92 L278.50,390.07 L278.85,390.09 L279.20,390.10 L279.55,390.07 L279.90,389.86 L280.25,390.03 L280.60,390.00 L280.95,389.93 L281.30,389.89 L281.65,389.98 L282.00,389.96 L282.35,389.95 L282.70,390.12 L283.05,389.90 L283.40,390.08 L283.75,389.87 L284.10,390.03 L284.45,389.95 L284.80,389.94 L285.15,389.96 L285.50,389.85 L285.85,389.87 L286.20,389.93 L286.55,389.86 L286.90,390.05 L287.25,389.99 L287.60,389.96 L287.95,389.97 L288.30,389.80 L288.65,389.73 L289.00,389.73 L289.35,389.94 L289.70,389.78 L290.05,389.86 L290.40,389.54 L290.75,389.16 L291.10,387.74 L291.45,383.14 L291.80,372.77 L292.15,358.06 L292.50,346.86 L292.85,349.45 L293.20,363.30 L293.55,377.05 L293.90,385.11 L294.25,388.31 L294.60,389.51 L294.95,389.64 L295.30,389.82 L295.65,389.78 L296.00,389.71 L296.35,389.94 L296.70,389.77 L297.05,390.04 L297.40,389.82 L297.75,389.88 L298.10,389.79 L298.45,389.86 L298.80,390.00 L299.15,389.83 L299.50,389.84 L299.85,389.83 L300.20,389.82 L300.55,389.97 L300.90,389.89 L301.25,390.05 L301.60,390.03 L301.95,389.98 L302.30,390.11 L302.65,390.12 L303.00,389.92 L303.35,390.07 L303.70,390.04 L304.05,389.89 L304.40,390.07 L304.75,389.85 L305.10,390.04 L305.45,390.11 L305.80,390.03 L306.15,390.05 L306.50,390.04 L306.85,389.96 L307.20,389.87 L307.55,389.95 L307.90,389.94 L308.25,390.09 L308.60,390.11 L308.95,390.13 L309.30,389.94 L309.65,390.11 L310.00,390.11 L310.35,389.85 L310.70,390.01 L311.05,389.87 L311.40,389.87 L311.75,389.98 L312.10,390.06 L312.45,389.90 L312.80,389.94 L313.15,389.99 L313.50,390.01 L313.85,389.88 L314.20,389.90 L314.55,389.85 L314.90,389.94 L315.25,390.14 L315.60,389.90 L315.95,390.07 L316.30,390.04 L316.65,390.10 L317.00,390.09" fill="none" stroke="#222" stroke-width="1.2" stroke-linejoin="round" stroke-dasharray="1.6 1.8"/>
<text x="65.5" y="357" font-family="Liberation Serif" font-size="15" fill="#d8344a" stroke="#d8344a" stroke-width="0.28" text-anchor="middle" >δ</text>
<path d="M393.5,297.4 L393.50,295.01 L394.20,294.63 L394.90,294.26 L395.60,293.88 L396.30,294.05 L397.00,294.22 L397.70,294.39 L398.40,294.52 L399.10,294.57 L399.80,294.63 L400.50,294.68 L401.20,294.45 L401.90,294.03 L402.60,293.60 L403.30,293.17 L404.00,293.22 L404.70,293.34 L405.40,293.47 L406.10,293.60 L406.80,293.75 L407.50,293.90 L408.20,294.05 L408.90,294.12 L409.60,294.07 L410.30,294.03 L411.00,293.98 L411.70,293.85 L412.40,293.68 L413.10,293.51 L413.80,293.34 L414.50,293.50 L415.20,293.67 L415.90,293.83 L416.60,293.99 L417.30,294.17 L418.00,294.35 L418.70,294.53 L419.40,294.54 L420.10,294.43 L420.80,294.32 L421.50,294.21 L422.20,294.12 L422.90,294.03 L423.60,293.94 L424.30,293.91 L425.00,294.19 L425.70,294.47 L426.40,294.74 L427.10,294.68 L427.80,294.18 L428.50,293.67 L429.20,293.16 L429.90,293.12 L430.60,293.26 L431.30,293.40 L432.00,293.54 L432.70,293.60 L433.40,293.65 L434.10,293.70 L434.80,293.77 L435.50,293.86 L436.20,293.95 L436.90,294.04 L437.60,293.88 L438.30,293.55 L439.00,293.21 L439.70,292.87 L440.40,292.89 L441.10,292.96 L441.80,293.03 L442.50,293.07 L443.20,292.91 L443.90,292.74 L444.60,292.58 L445.30,292.46 L446.00,292.41 L446.70,292.35 L447.40,292.30 L448.10,292.25 L448.80,292.21 L449.50,292.16 L450.20,292.11 L450.90,292.20 L451.60,292.28 L452.30,292.36 L453.00,292.41 L453.70,292.41 L454.40,292.40 L455.10,292.39 L455.80,292.23 L456.50,291.95 L457.20,291.66 L457.90,291.37 L458.60,291.35 L459.30,291.37 L460.00,291.38 L460.70,291.37 L461.40,291.21 L462.10,291.05 L462.80,290.87 L463.50,290.65 L464.20,290.37 L464.90,290.07 L465.60,289.77 L466.30,289.32 L467.00,288.79 L467.70,288.25 L468.40,287.70 L469.10,287.30 L469.80,286.88 L470.50,286.45 L471.20,286.09 L471.90,285.92 L472.60,285.74 L473.30,285.55 L474.00,285.21 L474.70,284.75 L475.40,284.28 L476.10,283.80 L476.80,283.55 L477.50,283.33 L478.20,283.09 L478.90,282.77 L479.60,282.00 L480.30,281.21 L481.00,280.41 L481.70,279.76 L482.40,279.31 L483.10,278.85 L483.80,278.37 L484.50,277.98 L485.20,277.45 L485.90,276.94 L486.60,276.42 L487.30,275.66 L488.00,274.89 L488.70,274.11 L489.40,273.37 L490.10,272.73 L490.80,272.09 L491.50,271.43 L492.20,270.77 L492.90,270.11 L493.60,269.44 L494.30,268.76 L495.00,267.92 L495.70,267.04 L496.40,266.15 L497.10,265.28 L497.80,264.61 L498.50,263.93 L499.20,263.25 L499.90,262.45 L500.60,261.52 L501.30,260.58 L502.00,259.64 L502.70,258.84 L503.40,258.09 L504.10,257.34 L504.80,256.58 L505.50,255.56 L506.20,254.53 L506.90,253.50 L507.60,252.51 L508.30,251.63 L509.00,250.76 L509.70,249.88 L510.40,249.03 L511.10,248.18 L511.80,247.35 L512.50,246.51 L513.20,245.64 L513.90,244.77 L514.60,243.90 L515.30,243.08 L516.00,242.50 L516.70,241.93 L517.40,241.37 L518.10,240.72 L518.80,239.94 L519.50,239.18 L520.20,238.44 L520.90,237.69 L521.60,236.94 L522.30,236.21 L523.00,235.50 L523.70,234.89 L524.40,234.30 L525.10,233.74 L525.80,233.12 L526.50,232.36 L527.20,231.62 L527.90,230.91 L528.60,230.42 L529.30,230.11 L530.00,229.83 L530.70,229.57 L531.40,229.02 L532.10,228.43 L532.80,227.88 L533.50,227.40 L534.20,227.28 L534.90,227.18 L535.60,227.11 L536.30,227.01 L537.00,226.87 L537.70,226.75 L538.40,226.67 L539.10,226.57 L539.80,226.50 L540.50,226.45 L541.20,226.43 L541.90,226.45 L542.60,226.49 L543.30,226.58 L544.00,226.71 L544.70,226.90 L545.40,227.13 L546.10,227.39 L546.80,227.68 L547.50,227.99 L548.20,228.34 L548.90,228.72 L549.60,229.09 L550.30,229.48 L551.00,229.91 L551.70,230.39 L552.40,231.04 L553.10,231.72 L553.80,232.42 L554.50,233.13 L555.20,233.83 L555.90,234.55 L556.60,235.30 L557.30,236.00 L558.00,236.71 L558.70,237.43 L559.40,238.18 L560.10,239.08 L560.80,240.00 L561.50,240.94 L562.20,241.87 L562.90,242.76 L563.60,243.66 L564.30,244.58 L565.00,245.41 L565.70,246.18 L566.40,246.96 L567.10,247.74 L567.80,248.80 L568.50,249.91 L569.20,251.03 L569.90,252.10 L570.60,252.93 L571.30,253.75 L572.00,254.57 L572.70,255.46 L573.40,256.44 L574.10,257.41 L574.80,258.38 L575.50,259.34 L576.20,260.28 L576.90,261.21 L577.60,262.14 L578.30,263.17 L579.00,264.19 L579.70,265.20 L580.40,266.14 L581.10,266.92 L581.80,267.69 L582.50,268.45 L583.20,269.29 L583.90,270.20 L584.60,271.09 L585.30,271.97 L586.00,272.57 L586.70,273.11 L587.40,273.64 L588.10,274.19 L588.80,274.92 L589.50,275.65 L590.20,276.35 L590.90,277.03 L591.60,277.67 L592.30,278.30 L593.00,278.91 L593.70,279.55 L594.40,280.20 L595.10,280.62 L595.80,281.33 L596.50,281.97 L597.20,282.58 L597.90,283.18 L598.60,283.70 L599.30,284.04 L600.00,284.36 L600.70,284.67 L601.40,285.22 L602.10,285.97 L602.80,286.70 L603.50,287.41 L604.20,287.51 L604.90,287.50 L605.60,287.47 L606.30,287.46 L607.00,287.63 L607.70,287.79 L608.40,287.93 L609.10,288.25 L609.80,288.82 L610.50,289.37 L611.20,289.91 L611.90,290.27 L612.60,290.55 L613.30,290.83 L614.00,291.09 L614.70,290.97 L615.40,290.85 L616.10,290.71 L616.80,290.79 L617.50,291.42 L618.20,292.04 L618.90,292.66 L619.60,292.77 L620.30,292.50 L621.00,292.22 L621.70,291.94 L622.40,292.36 L623.10,292.90 L623.80,293.44 L624.50,293.89 L625.20,293.87 L625.90,293.84 L626.60,293.81 L627.30,293.76 L628.00,293.69 L628.70,293.61 L629.40,293.52 L630.10,293.63 L630.80,293.80 L631.50,293.97 L632.20,294.14 L632.90,293.92 L633.60,293.70 L634.30,293.47 L635.00,293.37 L635.70,293.58 L636.40,293.80 L637.10,294.01 L637.80,294.12 L638.50,294.15 L639.20,294.18 L639.90,294.21 L640.60,294.09 L641.30,293.95 L642.00,293.81 L642.70,293.69 L643.40,293.72 L644.10,293.74 L644.80,293.76 L645.50,293.83 L646.20,293.97 L646.90,294.11 L647.60,294.25 L648.30,294.41 L649.00,294.57 L649.70,294.74 L650.40,294.91 L651.10,294.59 L651.80,294.27 L652.50,293.95 L653.20,293.68 L653.90,293.54 L654.60,293.40 L655.30,293.26 L656.00,293.27 L656.70,293.39 L657.40,293.51 L658.10,293.64 L658.80,293.90 L659.50,294.18 L660.20,294.46 L660.90,294.66 L661.60,294.32 L662.30,293.99 L663.00,293.66 L663.70,293.44 L664.40,293.38 L665.10,293.33 L665.80,293.27 L666.50,293.24 L667.20,293.21 L667.90,293.19 L668.60,293.16 L669.30,293.27 L669.7,297.4 Z" fill="#d9f0c4" stroke="none"/>
<path d="M393.50,294.16 L394.20,294.22 L394.90,294.28 L395.60,294.33 L396.30,294.28 L397.00,294.23 L397.70,294.18 L398.40,294.09 L399.10,293.91 L399.80,293.72 L400.50,293.53 L401.20,293.65 L401.90,294.01 L402.60,294.38 L403.30,294.74 L404.00,294.47 L404.70,294.10 L405.40,293.73 L406.10,293.46 L406.80,293.82 L407.50,294.17 L408.20,294.52 L408.90,294.65 L409.60,294.49 L410.30,294.32 L411.00,294.15 L411.70,294.11 L412.40,294.12 L413.10,294.13 L413.80,294.14 L414.50,294.10 L415.20,294.06 L415.90,294.03 L416.60,293.96 L417.30,293.84 L418.00,293.72 L418.70,293.59 L419.40,293.56 L420.10,293.58 L420.80,293.61 L421.50,293.64 L422.20,293.67 L422.90,293.71 L423.60,293.74 L424.30,293.78 L425.00,293.85 L425.70,293.91 L426.40,293.98 L427.10,294.00 L427.80,293.95 L428.50,293.91 L429.20,293.86 L429.90,293.61 L430.60,293.29 L431.30,292.95 L432.00,292.62 L432.70,292.80 L433.40,292.98 L434.10,293.16 L434.80,293.24 L435.50,293.07 L436.20,292.89 L436.90,292.71 L437.60,292.61 L438.30,292.57 L439.00,292.52 L439.70,292.47 L440.40,292.24 L441.10,291.97 L441.80,291.70 L442.50,291.46 L443.20,291.51 L443.90,291.56 L444.60,291.59 L445.30,291.55 L446.00,291.40 L446.70,291.25 L447.40,291.08 L448.10,290.60 L448.80,289.98 L449.50,289.36 L450.20,288.72 L450.90,288.62 L451.60,288.51 L452.30,288.39 L453.00,288.20 L453.70,287.84 L454.40,287.80 L455.10,287.50 L455.80,287.19 L456.50,286.87 L457.20,286.53 L457.90,286.18 L458.60,285.82 L459.30,285.45 L460.00,285.07 L460.70,284.67 L461.40,284.26 L462.10,283.84 L462.80,283.40 L463.50,282.95 L464.20,282.49 L464.90,282.01 L465.60,281.52 L466.30,281.01 L467.00,280.49 L467.70,279.96 L468.40,279.41 L469.10,278.85 L469.80,278.27 L470.50,277.69 L471.20,277.08 L471.90,276.46 L472.60,275.83 L473.30,275.19 L474.00,274.53 L474.70,273.86 L475.40,273.17 L476.10,272.47 L476.80,271.76 L477.50,271.04 L478.20,270.30 L478.90,269.55 L479.60,268.79 L480.30,268.02 L481.00,267.24 L481.70,266.45 L482.40,265.65 L483.10,264.84 L483.80,264.02 L484.50,263.19 L485.20,262.36 L485.90,261.51 L486.60,260.66 L487.30,259.81 L488.00,258.95 L488.70,258.08 L489.40,257.21 L490.10,256.34 L490.80,255.47 L491.50,254.59 L492.20,253.72 L492.90,252.84 L493.60,251.97 L494.30,251.10 L495.00,250.23 L495.70,249.36 L496.40,248.50 L497.10,247.64 L497.80,246.80 L498.50,245.95 L499.20,245.12 L499.90,244.30 L500.60,243.48 L501.30,242.68 L502.00,241.89 L502.70,241.11 L503.40,240.35 L504.10,239.60 L504.80,238.87 L505.50,238.16 L506.20,237.46 L506.90,236.78 L507.60,236.12 L508.30,235.48 L509.00,234.87 L509.70,234.27 L510.40,233.70 L511.10,233.15 L511.80,232.63 L512.50,232.13 L513.20,231.65 L513.90,231.21 L514.60,230.79 L515.30,230.39 L516.00,230.03 L516.70,229.70 L517.40,229.39 L518.10,229.11 L518.80,228.87 L519.50,228.65 L520.20,228.46 L520.90,228.31 L521.60,228.19 L522.30,228.09 L523.00,228.03 L523.70,228.00 L524.40,228.00 L525.10,228.04 L525.80,228.10 L526.50,228.18 L527.20,228.30 L527.90,228.45 L528.60,228.62 L529.30,228.82 L530.00,229.05 L530.70,229.31 L531.40,229.59" fill="none" stroke="#222" stroke-width="1.8" stroke-linejoin="round" stroke-dasharray="3.2 2.2"/>
<path d="M532.10,229.90 L532.80,230.24 L533.50,230.60 L534.20,230.99 L534.90,231.40 L535.60,231.84 L536.30,232.30 L537.00,232.79 L537.70,233.29 L538.40,233.82 L539.10,234.38 L539.80,234.95 L540.50,235.54 L541.20,236.15 L541.90,236.78 L542.60,237.43 L543.30,238.09 L544.00,238.77 L544.70,239.47 L545.40,240.18 L546.10,240.91 L546.80,241.64 L547.50,242.40 L548.20,243.16 L548.90,243.93 L549.60,244.71 L550.30,245.50 L551.00,246.30 L551.70,247.11 L552.40,247.92 L553.10,248.74 L553.80,249.57 L554.50,250.39 L555.20,251.22 L555.90,252.06 L556.60,252.89 L557.30,253.73 L558.00,254.57 L558.70,255.40 L559.40,256.24 L560.10,257.07 L560.80,257.90 L561.50,258.73 L562.20,259.55 L562.90,260.37 L563.60,261.18 L564.30,261.99 L565.00,262.79 L565.70,263.59 L566.40,264.37 L567.10,265.15 L567.80,265.92 L568.50,266.69 L569.20,267.44 L569.90,268.18 L570.60,268.92 L571.30,269.64 L572.00,270.36 L572.70,271.06 L573.40,271.75 L574.10,272.43 L574.80,273.10 L575.50,273.75 L576.20,274.40 L576.90,275.03 L577.60,275.65 L578.30,276.26 L579.00,276.85 L579.70,277.43 L580.40,278.00 L581.10,278.56 L581.80,279.10 L582.50,279.63 L583.20,280.15 L583.90,280.66 L584.60,281.15 L585.30,281.63 L586.00,282.09 L586.70,282.55 L587.40,282.99 L588.10,283.42 L588.80,283.84 L589.50,284.24 L590.20,284.63 L590.90,285.01 L591.60,285.38 L592.30,285.74 L593.00,286.09 L593.70,286.42 L594.40,286.92 L595.10,287.00 L595.80,287.07 L596.50,287.45 L597.20,287.82 L597.90,288.18 L598.60,288.50 L599.30,288.71 L600.00,288.91 L600.70,289.11 L601.40,289.25 L602.10,289.35 L602.80,289.44 L603.50,289.52 L604.20,289.70 L604.90,289.89 L605.60,290.07 L606.30,290.29 L607.00,290.79 L607.70,291.29 L608.40,291.79 L609.10,292.06 L609.80,292.04 L610.50,292.02 L611.20,291.99 L611.90,292.16 L612.60,292.40 L613.30,292.65 L614.00,292.88 L614.70,292.84 L615.40,292.79 L616.10,292.73 L616.80,292.64 L617.50,292.46 L618.20,292.28 L618.90,292.10 L619.60,292.06 L620.30,292.15 L621.00,292.22 L621.70,292.30 L622.40,292.69 L623.10,293.12 L623.80,293.55 L624.50,293.88 L625.20,293.62 L625.90,293.35 L626.60,293.08 L627.30,293.05 L628.00,293.33 L628.70,293.62 L629.40,293.90 L630.10,294.07 L630.80,294.20 L631.50,294.32 L632.20,294.44 L632.90,294.24 L633.60,294.05 L634.30,293.85 L635.00,293.74 L635.70,293.89 L636.40,294.04 L637.10,294.19 L637.80,294.18 L638.50,294.06 L639.20,293.95 L639.90,293.83 L640.60,293.70 L641.30,293.57 L642.00,293.44 L642.70,293.32 L643.40,293.24 L644.10,293.16 L644.80,293.08 L645.50,293.17 L646.20,293.49 L646.90,293.80 L647.60,294.11 L648.30,294.06 L649.00,293.87 L649.70,293.67 L650.40,293.48 L651.10,293.62 L651.80,293.76 L652.50,293.89 L653.20,294.05 L653.90,294.24 L654.60,294.43 L655.30,294.62 L656.00,294.56 L656.70,294.32 L657.40,294.08 L658.10,293.84 L658.80,293.75 L659.50,293.68 L660.20,293.61 L660.90,293.56 L661.60,293.63 L662.30,293.70 L663.00,293.78 L663.70,293.82 L664.40,293.82 L665.10,293.82 L665.80,293.82 L666.50,294.00 L667.20,294.27 L667.90,294.54 L668.60,294.80 L669.30,294.51" fill="none" stroke="#6a8f62" stroke-width="1.1" stroke-linejoin="round" stroke-dasharray="3.2 2.6"/>
<path d="M393.50,295.01 L394.20,294.63 L394.90,294.26 L395.60,293.88 L396.30,294.05 L397.00,294.22 L397.70,294.39 L398.40,294.52 L399.10,294.57 L399.80,294.63 L400.50,294.68 L401.20,294.45 L401.90,294.03 L402.60,293.60 L403.30,293.17 L404.00,293.22 L404.70,293.34 L405.40,293.47 L406.10,293.60 L406.80,293.75 L407.50,293.90 L408.20,294.05 L408.90,294.12 L409.60,294.07 L410.30,294.03 L411.00,293.98 L411.70,293.85 L412.40,293.68 L413.10,293.51 L413.80,293.34 L414.50,293.50 L415.20,293.67 L415.90,293.83 L416.60,293.99 L417.30,294.17 L418.00,294.35 L418.70,294.53 L419.40,294.54 L420.10,294.43 L420.80,294.32 L421.50,294.21 L422.20,294.12 L422.90,294.03 L423.60,293.94 L424.30,293.91 L425.00,294.19 L425.70,294.47 L426.40,294.74 L427.10,294.68 L427.80,294.18 L428.50,293.67 L429.20,293.16 L429.90,293.12 L430.60,293.26 L431.30,293.40 L432.00,293.54 L432.70,293.60 L433.40,293.65 L434.10,293.70 L434.80,293.77 L435.50,293.86 L436.20,293.95 L436.90,294.04 L437.60,293.88 L438.30,293.55 L439.00,293.21 L439.70,292.87 L440.40,292.89 L441.10,292.96 L441.80,293.03 L442.50,293.07 L443.20,292.91 L443.90,292.74 L444.60,292.58 L445.30,292.46 L446.00,292.41 L446.70,292.35 L447.40,292.30 L448.10,292.25 L448.80,292.21 L449.50,292.16 L450.20,292.11 L450.90,292.20 L451.60,292.28 L452.30,292.36 L453.00,292.41 L453.70,292.41 L454.40,292.40 L455.10,292.39 L455.80,292.23 L456.50,291.95 L457.20,291.66 L457.90,291.37 L458.60,291.35 L459.30,291.37 L460.00,291.38 L460.70,291.37 L461.40,291.21 L462.10,291.05 L462.80,290.87 L463.50,290.65 L464.20,290.37 L464.90,290.07 L465.60,289.77 L466.30,289.32 L467.00,288.79 L467.70,288.25 L468.40,287.70 L469.10,287.30 L469.80,286.88 L470.50,286.45 L471.20,286.09 L471.90,285.92 L472.60,285.74 L473.30,285.55 L474.00,285.21 L474.70,284.75 L475.40,284.28 L476.10,283.80 L476.80,283.55 L477.50,283.33 L478.20,283.09 L478.90,282.77 L479.60,282.00 L480.30,281.21 L481.00,280.41 L481.70,279.76 L482.40,279.31 L483.10,278.85 L483.80,278.37 L484.50,277.98 L485.20,277.45 L485.90,276.94 L486.60,276.42 L487.30,275.66 L488.00,274.89 L488.70,274.11 L489.40,273.37 L490.10,272.73 L490.80,272.09 L491.50,271.43 L492.20,270.77 L492.90,270.11 L493.60,269.44 L494.30,268.76 L495.00,267.92 L495.70,267.04 L496.40,266.15 L497.10,265.28 L497.80,264.61 L498.50,263.93 L499.20,263.25 L499.90,262.45 L500.60,261.52 L501.30,260.58 L502.00,259.64 L502.70,258.84 L503.40,258.09 L504.10,257.34 L504.80,256.58 L505.50,255.56 L506.20,254.53 L506.90,253.50 L507.60,252.51 L508.30,251.63 L509.00,250.76 L509.70,249.88 L510.40,249.03 L511.10,248.18 L511.80,247.35 L512.50,246.51 L513.20,245.64 L513.90,244.77 L514.60,243.90 L515.30,243.08 L516.00,242.50 L516.70,241.93 L517.40,241.37 L518.10,240.72 L518.80,239.94 L519.50,239.18 L520.20,238.44 L520.90,237.69 L521.60,236.94 L522.30,236.21 L523.00,235.50 L523.70,234.89 L524.40,234.30 L525.10,233.74 L525.80,233.12 L526.50,232.36 L527.20,231.62 L527.90,230.91 L528.60,230.42 L529.30,230.11 L530.00,229.83 L530.70,229.57 L531.40,229.02 L532.10,228.43 L532.80,227.88 L533.50,227.40 L534.20,227.28 L534.90,227.18 L535.60,227.11 L536.30,227.01 L537.00,226.87 L537.70,226.75 L538.40,226.67 L539.10,226.57 L539.80,226.50 L540.50,226.45 L541.20,226.43 L541.90,226.45 L542.60,226.49 L543.30,226.58 L544.00,226.71 L544.70,226.90 L545.40,227.13 L546.10,227.39 L546.80,227.68 L547.50,227.99 L548.20,228.34 L548.90,228.72 L549.60,229.09 L550.30,229.48 L551.00,229.91 L551.70,230.39 L552.40,231.04 L553.10,231.72 L553.80,232.42 L554.50,233.13 L555.20,233.83 L555.90,234.55 L556.60,235.30 L557.30,236.00 L558.00,236.71 L558.70,237.43 L559.40,238.18 L560.10,239.08 L560.80,240.00 L561.50,240.94 L562.20,241.87 L562.90,242.76 L563.60,243.66 L564.30,244.58 L565.00,245.41 L565.70,246.18 L566.40,246.96 L567.10,247.74 L567.80,248.80 L568.50,249.91 L569.20,251.03 L569.90,252.10 L570.60,252.93 L571.30,253.75 L572.00,254.57 L572.70,255.46 L573.40,256.44 L574.10,257.41 L574.80,258.38 L575.50,259.34 L576.20,260.28 L576.90,261.21 L577.60,262.14 L578.30,263.17 L579.00,264.19 L579.70,265.20 L580.40,266.14 L581.10,266.92 L581.80,267.69 L582.50,268.45 L583.20,269.29 L583.90,270.20 L584.60,271.09 L585.30,271.97 L586.00,272.57 L586.70,273.11 L587.40,273.64 L588.10,274.19 L588.80,274.92 L589.50,275.65 L590.20,276.35 L590.90,277.03 L591.60,277.67 L592.30,278.30 L593.00,278.91 L593.70,279.55 L594.40,280.20 L595.10,280.62 L595.80,281.33 L596.50,281.97 L597.20,282.58 L597.90,283.18 L598.60,283.70 L599.30,284.04 L600.00,284.36 L600.70,284.67 L601.40,285.22 L602.10,285.97 L602.80,286.70 L603.50,287.41 L604.20,287.51 L604.90,287.50 L605.60,287.47 L606.30,287.46 L607.00,287.63 L607.70,287.79 L608.40,287.93 L609.10,288.25 L609.80,288.82 L610.50,289.37 L611.20,289.91 L611.90,290.27 L612.60,290.55 L613.30,290.83 L614.00,291.09 L614.70,290.97 L615.40,290.85 L616.10,290.71 L616.80,290.79 L617.50,291.42 L618.20,292.04 L618.90,292.66 L619.60,292.77 L620.30,292.50 L621.00,292.22 L621.70,291.94 L622.40,292.36 L623.10,292.90 L623.80,293.44 L624.50,293.89 L625.20,293.87 L625.90,293.84 L626.60,293.81 L627.30,293.76 L628.00,293.69 L628.70,293.61 L629.40,293.52 L630.10,293.63 L630.80,293.80 L631.50,293.97 L632.20,294.14 L632.90,293.92 L633.60,293.70 L634.30,293.47 L635.00,293.37 L635.70,293.58 L636.40,293.80 L637.10,294.01 L637.80,294.12 L638.50,294.15 L639.20,294.18 L639.90,294.21 L640.60,294.09 L641.30,293.95 L642.00,293.81 L642.70,293.69 L643.40,293.72 L644.10,293.74 L644.80,293.76 L645.50,293.83 L646.20,293.97 L646.90,294.11 L647.60,294.25 L648.30,294.41 L649.00,294.57 L649.70,294.74 L650.40,294.91 L651.10,294.59 L651.80,294.27 L652.50,293.95 L653.20,293.68 L653.90,293.54 L654.60,293.40 L655.30,293.26 L656.00,293.27 L656.70,293.39 L657.40,293.51 L658.10,293.64 L658.80,293.90 L659.50,294.18 L660.20,294.46 L660.90,294.66 L661.60,294.32 L662.30,293.99 L663.00,293.66 L663.70,293.44 L664.40,293.38 L665.10,293.33 L665.80,293.27 L666.50,293.24 L667.20,293.21 L667.90,293.19 L668.60,293.16 L669.30,293.27" fill="none" stroke="#62b060" stroke-width="1.5" stroke-linejoin="round" />
<path d="M393.5,394.0 L393.50,392.66 L394.20,392.54 L394.90,392.43 L395.60,392.32 L396.30,392.50 L397.00,392.69 L397.70,392.88 L398.40,392.99 L399.10,392.90 L399.80,392.81 L400.50,392.73 L401.20,392.70 L401.90,392.71 L402.60,392.72 L403.30,392.73 L404.00,392.56 L404.70,392.37 L405.40,392.17 L406.10,392.01 L406.80,392.02 L407.50,392.03 L408.20,392.04 L408.90,392.07 L409.60,392.13 L410.30,392.18 L411.00,392.24 L411.70,392.40 L412.40,392.61 L413.10,392.81 L413.80,393.01 L414.50,392.66 L415.20,392.30 L415.90,391.95 L416.60,391.80 L417.30,392.16 L418.00,392.53 L418.70,392.90 L419.40,393.02 L420.10,392.96 L420.80,392.91 L421.50,392.85 L422.20,392.51 L422.90,392.11 L423.60,391.72 L424.30,391.40 L425.00,391.51 L425.70,391.63 L426.40,391.74 L427.10,391.92 L427.80,392.18 L428.50,392.44 L429.20,392.70 L429.90,392.74 L430.60,392.68 L431.30,392.62 L432.00,392.56 L432.70,392.65 L433.40,392.74 L434.10,392.84 L434.80,392.81 L435.50,392.49 L436.20,392.16 L436.90,391.83 L437.60,391.76 L438.30,391.88 L439.00,392.00 L439.70,392.12 L440.40,391.93 L441.10,391.69 L441.80,391.44 L442.50,391.22 L443.20,391.13 L443.90,391.03 L444.60,390.93 L445.30,390.96 L446.00,391.15 L446.70,391.34 L447.40,391.53 L448.10,391.54 L448.80,391.48 L449.50,391.41 L450.20,391.34 L450.90,391.22 L451.60,391.10 L452.30,390.98 L453.00,390.94 L453.70,391.12 L454.40,391.29 L455.10,391.47 L455.80,391.45 L456.50,391.31 L457.20,391.15 L457.90,391.00 L458.60,390.70 L459.30,390.38 L460.00,390.06 L460.70,389.77 L461.40,389.75 L462.10,389.72 L462.80,389.69 L463.50,389.60 L464.20,389.46 L464.90,389.31 L465.60,389.16 L466.30,389.02 L467.00,388.88 L467.70,388.74 L468.40,388.59 L469.10,388.46 L469.80,388.32 L470.50,388.18 L471.20,388.03 L471.90,387.87 L472.60,387.69 L473.30,387.52 L474.00,387.17 L474.70,386.68 L475.40,386.19 L476.10,385.70 L476.80,385.39 L477.50,385.10 L478.20,384.80 L478.90,384.55 L479.60,384.58 L480.30,384.61 L481.00,384.63 L481.70,384.53 L482.40,384.28 L483.10,384.03 L483.80,383.76 L484.50,383.23 L485.20,382.40 L485.90,381.91 L486.60,381.42 L487.30,381.06 L488.00,380.70 L488.70,380.32 L489.40,379.91 L490.10,379.40 L490.80,378.89 L491.50,378.37 L492.20,377.91 L492.90,377.51 L493.60,377.10 L494.30,376.68 L495.00,376.28 L495.70,375.89 L496.40,375.48 L497.10,375.03 L497.80,374.36 L498.50,373.68 L499.20,373.00 L499.90,372.41 L500.60,371.93 L501.30,371.46 L502.00,370.98 L502.70,370.42 L503.40,369.82 L504.10,369.22 L504.80,368.62 L505.50,368.09 L506.20,367.55 L506.90,367.01 L507.60,366.48 L508.30,365.96 L509.00,365.43 L509.70,364.91 L510.40,364.37 L511.10,363.82 L511.80,363.27 L512.50,362.72 L513.20,362.20 L513.90,361.68 L514.60,361.16 L515.30,360.63 L516.00,359.93 L516.70,359.25 L517.40,358.57 L518.10,357.98 L518.80,357.52 L519.50,357.07 L520.20,356.63 L520.90,356.24 L521.60,355.86 L522.30,355.50 L523.00,355.15 L523.70,354.55 L524.40,353.96 L525.10,353.38 L525.80,352.87 L526.50,352.54 L527.20,352.22 L527.90,351.92 L528.60,351.59 L529.30,351.26 L530.00,350.94 L530.70,350.64 L531.40,350.38 L532.10,350.13 L532.80,349.90 L533.50,349.69 L534.20,349.51 L534.90,349.35 L535.60,349.21 L536.30,349.13 L537.00,349.12 L537.70,349.13 L538.40,349.16 L539.10,349.08 L539.80,348.95 L540.50,348.85 L541.20,348.78 L541.90,348.94 L542.60,349.13 L543.30,349.35 L544.00,349.56 L544.70,349.68 L545.40,349.84 L546.10,350.02 L546.80,350.28 L547.50,350.62 L548.20,350.98 L548.90,351.37 L549.60,351.68 L550.30,352.00 L551.00,352.34 L551.70,352.70 L552.40,353.05 L553.10,353.43 L553.80,353.83 L554.50,354.34 L555.20,354.99 L555.90,355.65 L556.60,356.34 L557.30,356.89 L558.00,357.39 L558.70,357.91 L559.40,358.43 L560.10,359.02 L560.80,359.62 L561.50,360.23 L562.20,360.88 L562.90,361.62 L563.60,362.36 L564.30,363.11 L565.00,363.77 L565.70,364.36 L566.40,364.95 L567.10,365.54 L567.80,366.14 L568.50,366.73 L569.20,367.32 L569.90,367.93 L570.60,368.72 L571.30,369.51 L572.00,370.29 L572.70,371.04 L573.40,371.73 L574.10,372.41 L574.80,373.09 L575.50,373.70 L576.20,374.28 L576.90,374.86 L577.60,375.42 L578.30,375.95 L579.00,376.48 L579.70,376.99 L580.40,377.50 L581.10,378.00 L581.80,378.50 L582.50,378.98 L583.20,379.53 L583.90,380.13 L584.60,380.72 L585.30,381.29 L586.00,381.71 L586.70,382.09 L587.40,382.46 L588.10,382.83 L588.80,383.33 L589.50,383.82 L590.20,384.29 L590.90,384.73 L591.60,385.12 L592.30,385.50 L593.00,385.86 L593.70,386.18 L594.40,386.47 L595.10,387.15 L595.80,387.38 L596.50,387.57 L597.20,387.75 L597.90,387.91 L598.60,388.09 L599.30,388.32 L600.00,388.54 L600.70,388.75 L601.40,388.87 L602.10,388.91 L602.80,388.94 L603.50,388.96 L604.20,389.22 L604.90,389.50 L605.60,389.78 L606.30,390.02 L607.00,390.03 L607.70,390.04 L608.40,390.04 L609.10,390.11 L609.80,390.27 L610.50,390.43 L611.20,390.58 L611.90,390.85 L612.60,391.16 L613.30,391.47 L614.00,391.77 L614.70,391.89 L615.40,392.00 L616.10,392.10 L616.80,392.08 L617.50,391.72 L618.20,391.37 L618.90,391.01 L619.60,391.10 L620.30,391.52 L621.00,391.95 L621.70,392.37 L622.40,392.25 L623.10,392.04 L623.80,391.82 L624.50,391.61 L625.20,391.46 L625.90,391.29 L626.60,391.13 L627.30,391.20 L628.00,391.57 L628.70,391.94 L629.40,392.31 L630.10,392.44 L630.80,392.47 L631.50,392.50 L632.20,392.53 L632.90,392.44 L633.60,392.35 L634.30,392.26 L635.00,392.24 L635.70,392.40 L636.40,392.56 L637.10,392.73 L637.80,392.71 L638.50,392.54 L639.20,392.38 L639.90,392.22 L640.60,392.13 L641.30,392.06 L642.00,391.99 L642.70,391.95 L643.40,392.12 L644.10,392.29 L644.80,392.47 L645.50,392.42 L646.20,392.09 L646.90,391.76 L647.60,391.43 L648.30,391.64 L649.00,392.07 L649.70,392.50 L650.40,392.92 L651.10,392.69 L651.80,392.45 L652.50,392.21 L653.20,392.04 L653.90,392.05 L654.60,392.06 L655.30,392.06 L656.00,391.97 L656.70,391.80 L657.40,391.63 L658.10,391.46 L658.80,391.55 L659.50,391.68 L660.20,391.81 L660.90,391.95 L661.60,392.17 L662.30,392.38 L663.00,392.60 L663.70,392.74 L664.40,392.76 L665.10,392.79 L665.80,392.81 L666.50,392.78 L667.20,392.72 L667.90,392.67 L668.60,392.61 L669.30,392.64 L669.7,394.0 Z" fill="#f5dfcc" stroke="none"/>
<path d="M393.50,391.97 L394.20,391.97 L394.90,391.97 L395.60,391.97 L396.30,391.96 L397.00,391.96 L397.70,391.96 L398.40,391.95 L399.10,391.95 L399.80,391.95 L400.50,391.94 L401.20,391.94 L401.90,391.93 L402.60,391.93 L403.30,391.92 L404.00,391.92 L404.70,391.91 L405.40,391.90 L406.10,391.89 L406.80,391.89 L407.50,391.88 L408.20,391.87 L408.90,391.86 L409.60,391.85 L410.30,391.83 L411.00,391.82 L411.70,391.81 L412.40,391.79 L413.10,391.78 L413.80,391.76 L414.50,391.75 L415.20,391.73 L415.90,391.71 L416.60,391.69 L417.30,391.67 L418.00,391.64 L418.70,391.62 L419.40,391.59 L420.10,391.56 L420.80,391.53 L421.50,391.50 L422.20,391.47 L422.90,391.43 L423.60,391.40 L424.30,391.36 L425.00,391.32 L425.70,391.27 L426.40,391.22 L427.10,391.18 L427.80,391.12 L428.50,391.07 L429.20,391.01 L429.90,390.95 L430.60,390.88 L431.30,390.82 L432.00,390.74 L432.70,390.67 L433.40,390.59 L434.10,390.50 L434.80,390.42 L435.50,390.32 L436.20,390.23 L436.90,390.13 L437.60,390.02 L438.30,389.91 L439.00,389.79 L439.70,389.67 L440.40,389.54 L441.10,389.40 L441.80,389.26 L442.50,389.12 L443.20,388.96 L443.90,388.80 L444.60,388.64 L445.30,388.46 L446.00,388.28 L446.70,388.09 L447.40,387.89 L448.10,387.69 L448.80,387.47 L449.50,387.25 L450.20,387.02 L450.90,386.78 L451.60,386.53 L452.30,386.27 L453.00,386.01 L453.70,385.73 L454.40,385.44 L455.10,385.14 L455.80,384.83 L456.50,384.51 L457.20,384.18 L457.90,383.84 L458.60,383.49 L459.30,383.13 L460.00,382.75 L460.70,382.37 L461.40,381.97 L462.10,381.56 L462.80,381.14 L463.50,380.70 L464.20,380.25 L464.90,379.80 L465.60,379.32 L466.30,378.84 L467.00,378.34 L467.70,377.83 L468.40,377.31 L469.10,376.78 L469.80,376.23 L470.50,375.67 L471.20,375.10 L471.90,374.52 L472.60,373.92 L473.30,373.31 L474.00,372.69 L474.70,372.06 L475.40,371.42 L476.10,370.76 L476.80,370.10 L477.50,369.42 L478.20,368.73 L478.90,368.03 L479.60,367.32 L480.30,366.60 L481.00,365.87 L481.70,365.14 L482.40,364.39 L483.10,363.64 L483.80,362.87 L484.50,362.10 L485.20,361.32 L485.90,360.54 L486.60,359.75 L487.30,358.96 L488.00,358.16 L488.70,357.35 L489.40,356.54 L490.10,355.73 L490.80,354.92 L491.50,354.11 L492.20,353.29 L492.90,352.47 L493.60,351.66 L494.30,350.84 L495.00,350.03 L495.70,349.22 L496.40,348.41 L497.10,347.61 L497.80,346.81 L498.50,346.02 L499.20,345.24 L499.90,344.46 L500.60,343.69 L501.30,342.93 L502.00,342.18 L502.70,341.44 L503.40,340.71 L504.10,339.99 L504.80,339.29 L505.50,338.60 L506.20,337.92 L506.90,337.26 L507.60,336.62 L508.30,335.99 L509.00,335.38 L509.70,334.79 L510.40,334.22 L511.10,333.67 L511.80,333.13 L512.50,332.62 L513.20,332.13 L513.90,331.67 L514.60,331.22 L515.30,330.80 L516.00,330.41 L516.70,330.03 L517.40,329.69 L518.10,329.37 L518.80,329.07 L519.50,328.80 L520.20,328.56 L520.90,328.34 L521.60,328.15 L522.30,327.99 L523.00,327.86 L523.70,327.75 L524.40,327.67 L525.10,327.62 L525.80,327.60 L526.50,327.61 L527.20,327.65 L527.90,327.72 L528.60,327.83 L529.30,327.96 L530.00,328.13 L530.70,328.34 L531.40,328.57 L532.10,328.83 L532.80,329.13 L533.50,329.46 L534.20,329.81 L534.90,330.20 L535.60,330.62 L536.30,331.06 L537.00,331.53 L537.70,332.03 L538.40,332.55 L539.10,333.10 L539.80,333.68 L540.50,334.27 L541.20,334.89 L541.90,335.54 L542.60,336.20 L543.30,336.89 L544.00,337.59 L544.70,338.31 L545.40,339.05 L546.10,339.81 L546.80,340.58 L547.50,341.37 L548.20,342.17 L548.90,342.98 L549.60,343.80 L550.30,344.63 L551.00,345.48 L551.70,346.33 L552.40,347.19 L553.10,348.05 L553.80,348.92 L554.50,349.80 L555.20,350.67 L555.90,351.55 L556.60,352.44 L557.30,353.32 L558.00,354.20 L558.70,355.08 L559.40,355.96 L560.10,356.83 L560.80,357.70 L561.50,358.57 L562.20,359.43 L562.90,360.29 L563.60,361.14 L564.30,361.98 L565.00,362.81 L565.70,363.64 L566.40,364.45 L567.10,365.26 L567.80,366.05 L568.50,366.84 L569.20,367.61 L569.90,368.37 L570.60,369.12 L571.30,369.86 L572.00,370.58 L572.70,371.29 L573.40,371.99" fill="none" stroke="#222" stroke-width="1.8" stroke-linejoin="round" stroke-dasharray="3.2 2.2"/>
<path d="M393.50,392.66 L394.20,392.54 L394.90,392.43 L395.60,392.32 L396.30,392.50 L397.00,392.69 L397.70,392.88 L398.40,392.99 L399.10,392.90 L399.80,392.81 L400.50,392.73 L401.20,392.70 L401.90,392.71 L402.60,392.72 L403.30,392.73 L404.00,392.56 L404.70,392.37 L405.40,392.17 L406.10,392.01 L406.80,392.02 L407.50,392.03 L408.20,392.04 L408.90,392.07 L409.60,392.13 L410.30,392.18 L411.00,392.24 L411.70,392.40 L412.40,392.61 L413.10,392.81 L413.80,393.01 L414.50,392.66 L415.20,392.30 L415.90,391.95 L416.60,391.80 L417.30,392.16 L418.00,392.53 L418.70,392.90 L419.40,393.02 L420.10,392.96 L420.80,392.91 L421.50,392.85 L422.20,392.51 L422.90,392.11 L423.60,391.72 L424.30,391.40 L425.00,391.51 L425.70,391.63 L426.40,391.74 L427.10,391.92 L427.80,392.18 L428.50,392.44 L429.20,392.70 L429.90,392.74 L430.60,392.68 L431.30,392.62 L432.00,392.56 L432.70,392.65 L433.40,392.74 L434.10,392.84 L434.80,392.81 L435.50,392.49 L436.20,392.16 L436.90,391.83 L437.60,391.76 L438.30,391.88 L439.00,392.00 L439.70,392.12 L440.40,391.93 L441.10,391.69 L441.80,391.44 L442.50,391.22 L443.20,391.13 L443.90,391.03 L444.60,390.93 L445.30,390.96 L446.00,391.15 L446.70,391.34 L447.40,391.53 L448.10,391.54 L448.80,391.48 L449.50,391.41 L450.20,391.34 L450.90,391.22 L451.60,391.10 L452.30,390.98 L453.00,390.94 L453.70,391.12 L454.40,391.29 L455.10,391.47 L455.80,391.45 L456.50,391.31 L457.20,391.15 L457.90,391.00 L458.60,390.70 L459.30,390.38 L460.00,390.06 L460.70,389.77 L461.40,389.75 L462.10,389.72 L462.80,389.69 L463.50,389.60 L464.20,389.46 L464.90,389.31 L465.60,389.16 L466.30,389.02 L467.00,388.88 L467.70,388.74 L468.40,388.59 L469.10,388.46 L469.80,388.32 L470.50,388.18 L471.20,388.03 L471.90,387.87 L472.60,387.69 L473.30,387.52 L474.00,387.17 L474.70,386.68 L475.40,386.19 L476.10,385.70 L476.80,385.39 L477.50,385.10 L478.20,384.80 L478.90,384.55 L479.60,384.58 L480.30,384.61 L481.00,384.63 L481.70,384.53 L482.40,384.28 L483.10,384.03 L483.80,383.76 L484.50,383.23 L485.20,382.40 L485.90,381.91 L486.60,381.42 L487.30,381.06 L488.00,380.70 L488.70,380.32 L489.40,379.91 L490.10,379.40 L490.80,378.89 L491.50,378.37 L492.20,377.91 L492.90,377.51 L493.60,377.10 L494.30,376.68 L495.00,376.28 L495.70,375.89 L496.40,375.48 L497.10,375.03 L497.80,374.36 L498.50,373.68 L499.20,373.00 L499.90,372.41 L500.60,371.93 L501.30,371.46 L502.00,370.98 L502.70,370.42 L503.40,369.82 L504.10,369.22 L504.80,368.62 L505.50,368.09 L506.20,367.55 L506.90,367.01 L507.60,366.48 L508.30,365.96 L509.00,365.43 L509.70,364.91 L510.40,364.37 L511.10,363.82 L511.80,363.27 L512.50,362.72 L513.20,362.20 L513.90,361.68 L514.60,361.16 L515.30,360.63 L516.00,359.93 L516.70,359.25 L517.40,358.57 L518.10,357.98 L518.80,357.52 L519.50,357.07 L520.20,356.63 L520.90,356.24 L521.60,355.86 L522.30,355.50 L523.00,355.15 L523.70,354.55 L524.40,353.96 L525.10,353.38 L525.80,352.87 L526.50,352.54 L527.20,352.22 L527.90,351.92 L528.60,351.59 L529.30,351.26 L530.00,350.94 L530.70,350.64 L531.40,350.38 L532.10,350.13 L532.80,349.90 L533.50,349.69 L534.20,349.51 L534.90,349.35 L535.60,349.21 L536.30,349.13 L537.00,349.12 L537.70,349.13 L538.40,349.16 L539.10,349.08 L539.80,348.95 L540.50,348.85 L541.20,348.78 L541.90,348.94 L542.60,349.13 L543.30,349.35 L544.00,349.56 L544.70,349.68 L545.40,349.84 L546.10,350.02 L546.80,350.28 L547.50,350.62 L548.20,350.98 L548.90,351.37 L549.60,351.68 L550.30,352.00 L551.00,352.34 L551.70,352.70 L552.40,353.05 L553.10,353.43 L553.80,353.83 L554.50,354.34 L555.20,354.99 L555.90,355.65 L556.60,356.34 L557.30,356.89 L558.00,357.39 L558.70,357.91 L559.40,358.43 L560.10,359.02 L560.80,359.62 L561.50,360.23 L562.20,360.88 L562.90,361.62 L563.60,362.36 L564.30,363.11 L565.00,363.77 L565.70,364.36 L566.40,364.95 L567.10,365.54 L567.80,366.14 L568.50,366.73 L569.20,367.32 L569.90,367.93 L570.60,368.72 L571.30,369.51 L572.00,370.29 L572.70,371.04 L573.40,371.73 L574.10,372.41 L574.80,373.09 L575.50,373.70 L576.20,374.28 L576.90,374.86 L577.60,375.42 L578.30,375.95 L579.00,376.48 L579.70,376.99 L580.40,377.50 L581.10,378.00 L581.80,378.50 L582.50,378.98 L583.20,379.53 L583.90,380.13 L584.60,380.72 L585.30,381.29 L586.00,381.71 L586.70,382.09 L587.40,382.46 L588.10,382.83 L588.80,383.33 L589.50,383.82 L590.20,384.29 L590.90,384.73 L591.60,385.12 L592.30,385.50 L593.00,385.86 L593.70,386.18 L594.40,386.47 L595.10,387.15 L595.80,387.38 L596.50,387.57 L597.20,387.75 L597.90,387.91 L598.60,388.09 L599.30,388.32 L600.00,388.54 L600.70,388.75 L601.40,388.87 L602.10,388.91 L602.80,388.94 L603.50,388.96 L604.20,389.22 L604.90,389.50 L605.60,389.78 L606.30,390.02 L607.00,390.03 L607.70,390.04 L608.40,390.04 L609.10,390.11 L609.80,390.27 L610.50,390.43 L611.20,390.58 L611.90,390.85 L612.60,391.16 L613.30,391.47 L614.00,391.77 L614.70,391.89 L615.40,392.00 L616.10,392.10 L616.80,392.08 L617.50,391.72 L618.20,391.37 L618.90,391.01 L619.60,391.10 L620.30,391.52 L621.00,391.95 L621.70,392.37 L622.40,392.25 L623.10,392.04 L623.80,391.82 L624.50,391.61 L625.20,391.46 L625.90,391.29 L626.60,391.13 L627.30,391.20 L628.00,391.57 L628.70,391.94 L629.40,392.31 L630.10,392.44 L630.80,392.47 L631.50,392.50 L632.20,392.53 L632.90,392.44 L633.60,392.35 L634.30,392.26 L635.00,392.24 L635.70,392.40 L636.40,392.56 L637.10,392.73 L637.80,392.71 L638.50,392.54 L639.20,392.38 L639.90,392.22 L640.60,392.13 L641.30,392.06 L642.00,391.99 L642.70,391.95 L643.40,392.12 L644.10,392.29 L644.80,392.47 L645.50,392.42 L646.20,392.09 L646.90,391.76 L647.60,391.43 L648.30,391.64 L649.00,392.07 L649.70,392.50 L650.40,392.92 L651.10,392.69 L651.80,392.45 L652.50,392.21 L653.20,392.04 L653.90,392.05 L654.60,392.06 L655.30,392.06 L656.00,391.97 L656.70,391.80 L657.40,391.63 L658.10,391.46 L658.80,391.55 L659.50,391.68 L660.20,391.81 L660.90,391.95 L661.60,392.17 L662.30,392.38 L663.00,392.60 L663.70,392.74 L664.40,392.76 L665.10,392.79 L665.80,392.81 L666.50,392.78 L667.20,392.72 L667.90,392.67 L668.60,392.61 L669.30,392.64" fill="none" stroke="#e06048" stroke-width="1.6" stroke-linejoin="round" />
<line x1="523" y1="331" x2="530.5" y2="345.5" stroke="#333" stroke-width="0.9" />
<path d="M531.8,348 L527.6,343.4 L531.6,342.2 Z" fill="#333"/>
<line x1="393" y1="200.1" x2="393" y2="399" stroke="#626262" stroke-width="1.3" />
<line x1="392.5" y1="200.6" x2="670.7" y2="200.6" stroke="#626262" stroke-width="1.3" />
<line x1="670.2" y1="200.1" x2="670.2" y2="399" stroke="#626262" stroke-width="1.3" />
<line x1="393" y1="297.4" x2="670.2" y2="297.4" stroke="#7a9a6a" stroke-width="1.3" />
<line x1="392.5" y1="394" x2="670.7" y2="394" stroke="#555" stroke-width="1.0" />
<line x1="393.0" y1="394" x2="393.0" y2="399" stroke="#555" stroke-width="1.3" />
<text x="393.0" y="413" font-family="Liberation Sans" font-size="12" fill="#333" stroke="#333" stroke-width="0.28" text-anchor="middle" >700</text>
<line x1="406.86" y1="394" x2="406.86" y2="397" stroke="#555" stroke-width="1.3" />
<line x1="420.72" y1="394" x2="420.72" y2="397" stroke="#555" stroke-width="1.3" />
<line x1="434.58000000000004" y1="394" x2="434.58000000000004" y2="397" stroke="#555" stroke-width="1.3" />
<line x1="448.44" y1="394" x2="448.44" y2="397" stroke="#555" stroke-width="1.3" />
<line x1="462.3" y1="394" x2="462.3" y2="399" stroke="#555" stroke-width="1.3" />
<text x="462.3" y="413" font-family="Liberation Sans" font-size="12" fill="#333" stroke="#333" stroke-width="0.28" text-anchor="middle" >750</text>
<line x1="476.16" y1="394" x2="476.16" y2="397" stroke="#555" stroke-width="1.3" />
<line x1="490.02000000000004" y1="394" x2="490.02000000000004" y2="397" stroke="#555" stroke-width="1.3" />
<line x1="503.88" y1="394" x2="503.88" y2="397" stroke="#555" stroke-width="1.3" />
<line x1="517.74" y1="394" x2="517.74" y2="397" stroke="#555" stroke-width="1.3" />
<line x1="531.6" y1="394" x2="531.6" y2="399" stroke="#555" stroke-width="1.3" />
<text x="531.6" y="413" font-family="Liberation Sans" font-size="12" fill="#333" stroke="#333" stroke-width="0.28" text-anchor="middle" >800</text>
<line x1="545.46" y1="394" x2="545.46" y2="397" stroke="#555" stroke-width="1.3" />
<line x1="559.32" y1="394" x2="559.32" y2="397" stroke="#555" stroke-width="1.3" />
<line x1="573.1800000000001" y1="394" x2="573.1800000000001" y2="397" stroke="#555" stroke-width="1.3" />
<line x1="587.0400000000001" y1="394" x2="587.0400000000001" y2="397" stroke="#555" stroke-width="1.3" />
<line x1="600.9000000000001" y1="394" x2="600.9000000000001" y2="399" stroke="#555" stroke-width="1.3" />
<text x="600.9000000000001" y="413" font-family="Liberation Sans" font-size="12" fill="#333" stroke="#333" stroke-width="0.28" text-anchor="middle" >850</text>
<line x1="614.76" y1="394" x2="614.76" y2="397" stroke="#555" stroke-width="1.3" />
<line x1="628.62" y1="394" x2="628.62" y2="397" stroke="#555" stroke-width="1.3" />
<line x1="642.48" y1="394" x2="642.48" y2="397" stroke="#555" stroke-width="1.3" />
<line x1="656.34" y1="394" x2="656.34" y2="397" stroke="#555" stroke-width="1.3" />
<line x1="670.2" y1="394" x2="670.2" y2="399" stroke="#555" stroke-width="1.3" />
<text x="670.2" y="413" font-family="Liberation Sans" font-size="12" fill="#333" stroke="#333" stroke-width="0.28" text-anchor="middle" >900</text>
<text x="486.4" y="432.2" font-family="Liberation Sans" font-size="13.4" fill="#333" stroke="#333" stroke-width="0.28" textLength="102" lengthAdjust="spacingAndGlyphs" >Wavelength (nm)</text>
<text x="376.6" y="293.4" font-family="Liberation Sans" font-size="13.6" fill="#333" stroke="#333" stroke-width="0.28" text-anchor="middle" textLength="103.5" lengthAdjust="spacingAndGlyphs" transform="rotate(-90 376.6 293.4)" >PL intensity (a.u.)</text>
<text x="360.2" y="206" font-family="Liberation Serif" font-size="20.3" fill="#111" textLength="22.7" lengthAdjust="spacingAndGlyphs" font-weight="bold" >(e)</text>
<text x="397" y="216" font-family="Liberation Sans" font-size="13.5" fill="#3c9f62" stroke="#3c9f62" stroke-width="0.28" textLength="97.4" lengthAdjust="spacingAndGlyphs" >(111)-dominated</text>
<text x="399" y="314.9" font-family="Liberation Sans" font-size="14.2" fill="#2a2a2a" stroke="#2a2a2a" stroke-width="0.28" textLength="43" lengthAdjust="spacingAndGlyphs" >Control</text>
<line x1="46.4" y1="456.8" x2="46.4" y2="602.5" stroke="#5a5a5a" stroke-width="1.2" />
<line x1="45.9" y1="457.3" x2="671.5" y2="457.3" stroke="#626262" stroke-width="1.3" />
<line x1="671" y1="456.8" x2="671" y2="595.5" stroke="#626262" stroke-width="1.3" />
<line x1="45.9" y1="595" x2="671.5" y2="595" stroke="#555" stroke-width="1.3" />
<line x1="46.4" y1="595.0" x2="53.4" y2="595.0" stroke="#626262" stroke-width="1.3" />
<text x="38.3" y="599.1" font-family="Liberation Sans" font-size="12" fill="#333" stroke="#333" stroke-width="0.28" text-anchor="end" >0.8</text>
<line x1="46.4" y1="581.23" x2="49.9" y2="581.23" stroke="#626262" stroke-width="1.3" />
<line x1="46.4" y1="567.46" x2="49.9" y2="567.46" stroke="#626262" stroke-width="1.3" />
<line x1="46.4" y1="553.6899999999999" x2="49.9" y2="553.6899999999999" stroke="#626262" stroke-width="1.3" />
<line x1="46.4" y1="539.9200000000001" x2="49.9" y2="539.9200000000001" stroke="#626262" stroke-width="1.3" />
<line x1="46.4" y1="526.15" x2="53.4" y2="526.15" stroke="#626262" stroke-width="1.3" />
<text x="38.3" y="530.25" font-family="Liberation Sans" font-size="12" fill="#333" stroke="#333" stroke-width="0.28" text-anchor="end" >0.9</text>
<line x1="46.4" y1="512.38" x2="49.9" y2="512.38" stroke="#626262" stroke-width="1.3" />
<line x1="46.4" y1="498.61" x2="49.9" y2="498.61" stroke="#626262" stroke-width="1.3" />
<line x1="46.4" y1="484.84" x2="49.9" y2="484.84" stroke="#626262" stroke-width="1.3" />
<line x1="46.4" y1="471.07000000000005" x2="49.9" y2="471.07000000000005" stroke="#626262" stroke-width="1.3" />
<line x1="46.4" y1="457.30000000000007" x2="53.4" y2="457.30000000000007" stroke="#626262" stroke-width="1.3" />
<text x="38.3" y="461.4000000000001" font-family="Liberation Sans" font-size="12" fill="#333" stroke="#333" stroke-width="0.28" text-anchor="end" >1.0</text>
<line x1="46.4" y1="595" x2="46.4" y2="602" stroke="#626262" stroke-width="1.3" />
<text x="46.4" y="617.4" font-family="Liberation Sans" font-size="11.5" fill="#333" stroke="#333" stroke-width="0.28" text-anchor="middle" >0</text>
<line x1="77.58" y1="595" x2="77.58" y2="598.2" stroke="#626262" stroke-width="1.3" />
<line x1="108.75999999999999" y1="595" x2="108.75999999999999" y2="598.2" stroke="#626262" stroke-width="1.3" />
<line x1="139.94" y1="595" x2="139.94" y2="598.2" stroke="#626262" stroke-width="1.3" />
<line x1="171.12" y1="595" x2="171.12" y2="602" stroke="#626262" stroke-width="1.3" />
<text x="171.12" y="617.4" font-family="Liberation Sans" font-size="11.5" fill="#333" stroke="#333" stroke-width="0.28" text-anchor="middle" >400</text>
<line x1="202.3" y1="595" x2="202.3" y2="598.2" stroke="#626262" stroke-width="1.3" />
<line x1="233.48000000000002" y1="595" x2="233.48000000000002" y2="598.2" stroke="#626262" stroke-width="1.3" />
<line x1="264.65999999999997" y1="595" x2="264.65999999999997" y2="598.2" stroke="#626262" stroke-width="1.3" />
<line x1="295.84" y1="595" x2="295.84" y2="602" stroke="#626262" stroke-width="1.3" />
<text x="295.84" y="617.4" font-family="Liberation Sans" font-size="11.5" fill="#333" stroke="#333" stroke-width="0.28" text-anchor="middle" >800</text>
<line x1="327.02" y1="595" x2="327.02" y2="598.2" stroke="#626262" stroke-width="1.3" />
<line x1="358.2" y1="595" x2="358.2" y2="598.2" stroke="#626262" stroke-width="1.3" />
<line x1="389.38" y1="595" x2="389.38" y2="598.2" stroke="#626262" stroke-width="1.3" />
<line x1="420.56" y1="595" x2="420.56" y2="602" stroke="#626262" stroke-width="1.3" />
<text x="420.56" y="617.4" font-family="Liberation Sans" font-size="11.5" fill="#333" stroke="#333" stroke-width="0.28" text-anchor="middle" >1200</text>
<line x1="451.73999999999995" y1="595" x2="451.73999999999995" y2="598.2" stroke="#626262" stroke-width="1.3" />
<line x1="482.91999999999996" y1="595" x2="482.91999999999996" y2="598.2" stroke="#626262" stroke-width="1.3" />
<line x1="514.1" y1="595" x2="514.1" y2="598.2" stroke="#626262" stroke-width="1.3" />
<line x1="545.28" y1="595" x2="545.28" y2="602" stroke="#626262" stroke-width="1.3" />
<text x="545.28" y="617.4" font-family="Liberation Sans" font-size="11.5" fill="#333" stroke="#333" stroke-width="0.28" text-anchor="middle" >1600</text>
<line x1="576.4599999999999" y1="595" x2="576.4599999999999" y2="598.2" stroke="#626262" stroke-width="1.3" />
<line x1="607.64" y1="595" x2="607.64" y2="598.2" stroke="#626262" stroke-width="1.3" />
<line x1="638.8199999999999" y1="595" x2="638.8199999999999" y2="598.2" stroke="#626262" stroke-width="1.3" />
<line x1="670.0" y1="595" x2="670.0" y2="602" stroke="#626262" stroke-width="1.3" />
<text x="670.0" y="617.4" font-family="Liberation Sans" font-size="11.5" fill="#333" stroke="#333" stroke-width="0.28" text-anchor="middle" >2000</text>
<text x="335.6" y="629.3" font-family="Liberation Sans" font-size="13.4" fill="#333" stroke="#333" stroke-width="0.28" textLength="46.8" lengthAdjust="spacingAndGlyphs" >Time (h)</text>
<text x="13" y="525.9" font-family="Liberation Sans" font-size="14" fill="#333" stroke="#333" stroke-width="0.28" text-anchor="middle" textLength="93.5" lengthAdjust="spacingAndGlyphs" transform="rotate(-90 13 525.9)" >Normalized PCE</text>
<text x="6.6" y="442.8" font-family="Liberation Serif" font-size="20.7" fill="#111" textLength="20.2" lengthAdjust="spacingAndGlyphs" font-weight="bold" >(f)</text>
<text x="277.6" y="574.6" font-family="Liberation Sans" font-size="12.6" fill="#333" stroke="#333" stroke-width="0.28" textLength="180.7" lengthAdjust="spacingAndGlyphs" >30-40% RH, without encapsulation</text>
<path d="M46.40,457.30 L50.07,457.76 L54.76,458.36 L60.30,459.08 L66.52,459.89 L73.26,460.76 L80.35,461.66 L87.62,462.58 L94.91,463.47 L102.05,464.32 L108.88,465.09 L115.21,465.76 L120.90,466.30 L125.97,466.72 L130.61,467.05 L134.93,467.30 L139.01,467.49 L142.94,467.63 L146.81,467.74 L150.71,467.84 L154.72,467.92 L158.93,468.02 L163.44,468.14 L168.34,468.29 L173.70,468.50 L179.55,468.76 L185.79,469.06 L192.37,469.38 L199.22,469.73 L206.27,470.08 L213.46,470.43 L220.73,470.77 L228.01,471.10 L235.25,471.39 L242.36,471.64 L249.30,471.85 L256.00,472.00 L262.58,472.08 L269.18,472.09 L275.79,472.05 L282.37,471.97 L288.90,471.86 L295.36,471.73 L301.71,471.60 L307.93,471.47 L314.00,471.37 L319.88,471.30 L325.56,471.27 L331.00,471.30 L336.17,471.39 L341.07,471.53 L345.74,471.70 L350.21,471.91 L354.54,472.13 L358.74,472.37 L362.86,472.61 L366.94,472.84 L371.02,473.05 L375.13,473.24 L379.31,473.39 L383.60,473.50 L387.95,473.55 L392.29,473.56 L396.62,473.52 L400.95,473.46 L405.27,473.37 L409.59,473.29 L413.91,473.21 L418.23,473.14 L422.56,473.11 L426.89,473.12 L431.24,473.18 L435.60,473.30 L439.96,473.51 L444.30,473.80 L448.63,474.15 L452.96,474.56 L457.30,474.99 L461.65,475.43 L466.02,475.87 L470.41,476.28 L474.84,476.64 L479.31,476.95 L483.83,477.17 L488.40,477.30 L493.04,477.30 L497.77,477.19 L502.56,476.97 L507.40,476.69 L512.27,476.37 L517.16,476.03 L522.05,475.69 L526.93,475.39 L531.78,475.14 L536.58,474.98 L541.33,474.92 L546.00,475.00 L550.61,475.21 L555.17,475.52 L559.70,475.92 L564.19,476.39 L568.65,476.92 L573.09,477.49 L577.52,478.09 L581.92,478.71 L586.32,479.32 L590.71,479.92 L595.10,480.48 L599.50,481.00 L604.06,481.51 L608.87,482.05 L613.84,482.60 L618.90,483.16 L623.95,483.72 L628.89,484.27 L633.66,484.80 L638.14,485.30 L642.27,485.76 L645.95,486.17 L649.09,486.52 L651.60,486.80" fill="none" stroke="#33b04a" stroke-width="1.7" stroke-linejoin="round"/>
<path d="M46.40,457.30 L49.07,457.62 L52.51,458.03 L56.60,458.50 L61.20,459.04 L66.17,459.62 L71.38,460.24 L76.68,460.87 L81.96,461.51 L87.06,462.15 L91.86,462.77 L96.22,463.36 L100.00,463.90 L103.26,464.40 L106.19,464.86 L108.84,465.30 L111.27,465.73 L113.53,466.15 L115.67,466.57 L117.75,467.00 L119.83,467.46 L121.96,467.95 L124.19,468.48 L126.59,469.06 L129.20,469.70 L131.99,470.41 L134.89,471.19 L137.86,472.02 L140.91,472.90 L144.00,473.80 L147.13,474.73 L150.28,475.66 L153.43,476.59 L156.56,477.50 L159.66,478.38 L162.71,479.22 L165.70,480.00 L168.57,480.74 L171.29,481.45 L173.92,482.15 L176.49,482.82 L179.05,483.48 L181.63,484.12 L184.28,484.74 L187.04,485.36 L189.95,485.96 L193.05,486.55 L196.39,487.13 L200.00,487.70 L203.85,488.25 L207.86,488.75 L212.03,489.21 L216.36,489.66 L220.83,490.09 L225.46,490.52 L230.22,490.97 L235.12,491.43 L240.16,491.92 L245.32,492.46 L250.60,493.05 L256.00,493.70 L261.66,494.39 L267.66,495.07 L273.94,495.77 L280.42,496.50 L287.04,497.25 L293.71,498.04 L300.38,498.89 L306.96,499.79 L313.38,500.77 L319.58,501.82 L325.47,502.96 L331.00,504.20 L336.17,505.59 L341.07,507.17 L345.74,508.89 L350.21,510.72 L354.54,512.62 L358.74,514.54 L362.86,516.47 L366.94,518.35 L371.02,520.15 L375.13,521.83 L379.31,523.36 L383.60,524.70 L387.95,525.88 L392.29,526.95 L396.62,527.93 L400.95,528.82 L405.27,529.63 L409.59,530.37 L413.91,531.04 L418.23,531.66 L422.56,532.23 L426.89,532.75 L431.24,533.24 L435.60,533.70 L439.96,534.10 L444.30,534.40 L448.63,534.63 L452.96,534.79 L457.30,534.90 L461.65,534.98 L466.02,535.03 L470.41,535.08 L474.84,535.13 L479.31,535.21 L483.83,535.33 L488.40,535.50 L493.04,535.68 L497.76,535.81 L502.55,535.92 L507.38,536.03 L512.24,536.14 L517.12,536.28 L522.01,536.46 L526.89,536.69 L531.74,537.00 L536.55,537.39 L541.31,537.89 L546.00,538.50 L550.63,539.31 L555.24,540.35 L559.81,541.56 L564.36,542.90 L568.88,544.30 L573.38,545.73 L577.85,547.13 L582.31,548.44 L586.75,549.61 L591.18,550.60 L595.60,551.35 L600.00,551.80 L604.55,551.94 L609.34,551.81 L614.28,551.46 L619.29,550.92 L624.28,550.25 L629.17,549.48 L633.88,548.67 L638.31,547.86 L642.38,547.09 L646.01,546.41 L649.11,545.87 L651.60,545.50" fill="none" stroke="#1a1a1a" stroke-width="1.7" stroke-linejoin="round"/>
<polygon points="46.1,448.3 54.1,461.5 38.1,461.5" fill="#52c646" stroke="#2b9238" stroke-width="1.2"/>
<polygon points="120.9,458.0 128.9,471.2 112.9,471.2" fill="#52c646" stroke="#2b9238" stroke-width="1.2"/>
<polygon points="173.7,460.2 181.7,473.4 165.7,473.4" fill="#52c646" stroke="#2b9238" stroke-width="1.2"/>
<polygon points="256.0,463.6 264.0,476.8 248.0,476.8" fill="#52c646" stroke="#2b9238" stroke-width="1.2"/>
<polygon points="331.0,461.6 339.0,474.8 323.0,474.8" fill="#52c646" stroke="#2b9238" stroke-width="1.2"/>
<polygon points="383.6,466.0 391.6,479.2 375.6,479.2" fill="#52c646" stroke="#2b9238" stroke-width="1.2"/>
<polygon points="435.6,464.4 443.6,477.6 427.6,477.6" fill="#52c646" stroke="#2b9238" stroke-width="1.2"/>
<polygon points="488.4,471.0 496.4,484.2 480.4,484.2" fill="#52c646" stroke="#2b9238" stroke-width="1.2"/>
<polygon points="546.0,463.6 554.0,476.8 538.0,476.8" fill="#52c646" stroke="#2b9238" stroke-width="1.2"/>
<polygon points="599.5,471.7 607.5,484.9 591.5,484.9" fill="#52c646" stroke="#2b9238" stroke-width="1.2"/>
<polygon points="651.6,478.0 659.6,491.2 643.6,491.2" fill="#52c646" stroke="#2b9238" stroke-width="1.2"/>
<polygon points="38.3,453.0 53.9,453.0 46.1,465.6" fill="#969696"/>
<polygon points="113.1,461.7 128.7,461.7 120.9,474.3" fill="#969696"/>
<polygon points="165.9,481.0 181.5,481.0 173.7,493.6" fill="#969696"/>
<polygon points="248.2,490.0 263.8,490.0 256.0,502.6" fill="#969696"/>
<polygon points="323.2,495.6 338.8,495.6 331.0,508.2" fill="#969696"/>
<polygon points="375.8,523.6 391.4,523.6 383.6,536.2" fill="#969696"/>
<polygon points="427.8,531.0 443.4,531.0 435.6,543.6" fill="#969696"/>
<polygon points="480.6,531.6 496.2,531.6 488.4,544.2" fill="#969696"/>
<polygon points="538.2,530.0 553.8,530.0 546.0,542.6" fill="#969696"/>
<polygon points="591.7,553.0 607.3,553.0 599.5,565.6" fill="#969696"/>
<polygon points="643.8,542.2 659.4,542.2 651.6,554.8" fill="#969696"/>
<line x1="62.9" y1="553.2" x2="90.6" y2="553.2" stroke="#33b04a" stroke-width="1.7"/>
<polygon points="77.2,545.2 84.8,558.1 69.6,558.1" fill="#52c646" stroke="#2b9238" stroke-width="1.2"/>
<line x1="62.9" y1="567.8" x2="90.6" y2="567.8" stroke="#1a1a1a" stroke-width="1.7"/>
<polygon points="70.2,563.1 84.2,563.1 77.2,576.5" fill="#969696"/>
<text x="94.1" y="557.8" font-family="Liberation Sans" font-size="11.9" fill="#333" stroke="#333" stroke-width="0.28" textLength="85.4" lengthAdjust="spacingAndGlyphs">(111)-dominated</text>
<text x="94.1" y="571.9" font-family="Liberation Sans" font-size="11.6" fill="#333" stroke="#333" stroke-width="0.28" textLength="37.4" lengthAdjust="spacingAndGlyphs">Control</text>
</svg></body></html>
